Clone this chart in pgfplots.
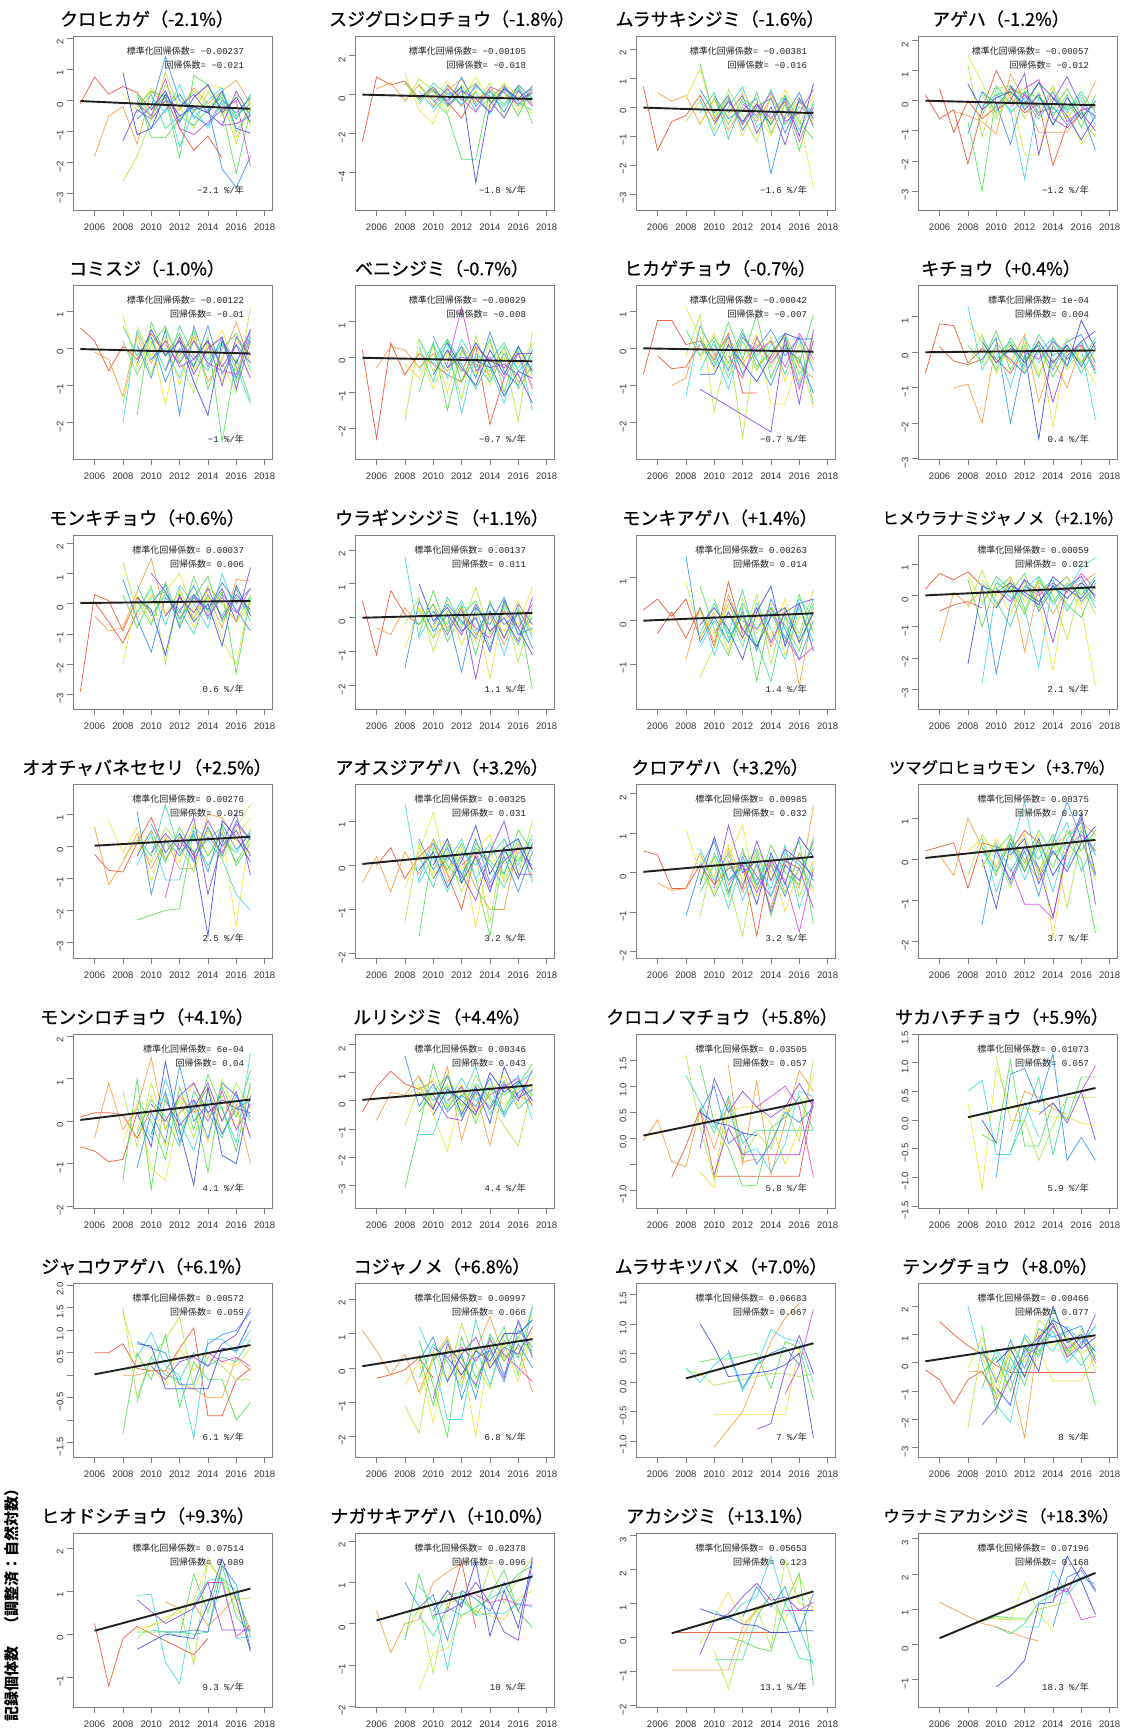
\documentclass[border=0pt]{standalone}
\usepackage{fontspec}
\setmainfont{Liberation Sans}
\newfontfamily\jp{Noto Sans CJK JP}
\newfontfamily\jpt[FakeBold=0.7]{Noto Sans CJK JP}
\newfontfamily\mono{Liberation Mono}
\usepackage{pgfplots}
\pgfplotsset{compat=1.18}
\definecolor{cR}{RGB}{235,70,40}
\definecolor{cO}{RGB}{245,150,50}
\definecolor{cY}{RGB}{235,225,40}
\definecolor{cYG}{RGB}{170,230,50}
\definecolor{cG}{RGB}{70,220,70}
\definecolor{cSG}{RGB}{50,215,150}
\definecolor{cC}{RGB}{50,215,225}
\definecolor{cA}{RGB}{40,140,235}
\definecolor{cB}{RGB}{45,65,225}
\definecolor{cV}{RGB}{130,60,230}
\definecolor{cM}{RGB}{215,60,215}
\definecolor{cP}{RGB}{170,50,220}
\definecolor{frm}{RGB}{125,125,125}
\pgfplotsset{
  ln/.style={mark=none, line width=0.75pt, opacity=0.85},
  lR/.style={ln,color=cR}, lO/.style={ln,color=cO}, lY/.style={ln,color=cY},
  lYG/.style={ln,color=cYG}, lG/.style={ln,color=cG}, lSG/.style={ln,color=cSG},
  lC/.style={ln,color=cC}, lA/.style={ln,color=cA}, lB/.style={ln,color=cB},
  lV/.style={ln,color=cV}, lM/.style={ln,color=cM}, lP/.style={ln,color=cP},
  reg/.style={mark=none, line width=1.9pt, color=black!88},
  pan/.style={
    scale only axis, width=199pt, height=174pt, anchor=north west,
    xmin=2004.48, xmax=2018.52,
    xtick={2006,2008,2010,2012,2014,2016,2018},
    xticklabels={2006,2008,2010,2012,2014,2016,2018},
    xtick pos=bottom, ytick pos=left,
    tick align=outside, major tick length=6pt,
    axis line style={frm, line width=0.8pt},
    tick style={frm, line width=0.7pt},
    tick label style={font=\fontsize{9.5}{10}\selectfont, text=black!80},
    xticklabel style={yshift=-4pt},
    yticklabel style={rotate=90, anchor=south, xshift=-4pt},
  }
}
\newcommand\stats[3]{%
 \node[anchor=east,inner sep=0pt,text=black!88,font=\fontsize{9}{10}\selectfont] at (rel axis cs:0.86,0.915) {{\jp 標準化回帰係数}{\mono= #1}};
 \node[anchor=east,inner sep=0pt,text=black!88,font=\fontsize{9}{10}\selectfont] at (rel axis cs:0.86,0.835) {{\jp 回帰係数}{\mono= #2}};
 \node[anchor=east,inner sep=0pt,text=black!88,font=\fontsize{9}{10}\selectfont] at (rel axis cs:0.86,0.115) {{\mono #3 \%/}{\jp 年}};}
\newcommand\ttl[3]{\node[font=\jpt\fontsize{18}{18}\selectfont,text=black] at (#1pt,#2pt) {#3};}
\newcommand\ttls[3]{\node[font=\jpt\fontsize{16.3}{18}\selectfont,text=black] at (#1pt,#2pt) {#3};}
\begin{document}
\begin{tikzpicture}[x=1pt,y=1pt]
\useasboundingbox (0,0) rectangle (1127,1735);
% ---------------- Row 1 ----------------
\ttl{147}{1716}{クロヒカゲ（-2.1\%）}
\begin{axis}[pan,at={(73pt,1699pt)},ymin=-3.52,ymax=2.07,ytick={-3,-2,-1,0,1,2},yticklabels={−3,−2,−1,0,1,2}]
\addplot[lR] coordinates {(2005,-0.1)(2006,0.75)(2007,0.2)(2008,0.45)(2009,0.25)(2010,-0.3)(2011,0.1)(2012,-0.9)(2013,-1.6)(2014,-1.15)(2015,-1.85)};
\addplot[lO] coordinates {(2006,-1.8)(2007,-0.5)(2008,-0.2)(2009,-1.4)(2010,0.3)(2011,-0.2)(2012,-0.3)(2013,0.4)(2014,-0.1)(2015,0.3)(2016,0.65)(2017,-0.1)};
\addplot[lY] coordinates {(2008,0.2)(2009,-0.3)(2010,0.4)(2011,-0.1)(2012,0.2)(2013,-0.4)(2014,0.5)(2015,0.4)(2016,-1.2)(2017,-0.2)};
\addplot[lYG] coordinates {(2008,-2.6)(2009,-1.8)(2010,-0.6)(2011,0.9)(2012,-0.3)(2013,0.3)(2014,-0.2)(2015,0.1)(2016,-1.4)(2017,0.1)};
\addplot[lG] coordinates {(2009,-0.2)(2010,0.3)(2011,0.1)(2012,-1.85)(2013,0.8)(2014,0.5)(2015,-0.3)(2016,-2.35)(2017,-0.3)};
\addplot[lG] coordinates {(2009,0.2)(2010,-1.2)(2011,-1.2)(2012,-0.6)(2013,-0.2)(2014,-0.4)(2015,0.2)(2016,-0.5)(2017,-0.1)};
\addplot[lSG] coordinates {(2009,-0.4)(2010,0.2)(2011,-0.9)(2012,-0.5)(2013,-0.8)(2014,-0.3)(2015,0.1)(2016,-0.6)(2017,0.2)};
\addplot[lC] coordinates {(2009,0.2)(2010,-0.5)(2011,0.2)(2012,-1.5)(2013,-0.3)(2014,-0.9)(2015,-0.1)(2016,-0.6)(2017,0.2)};
\addplot[lA] coordinates {(2009,-0.6)(2010,-0.2)(2011,1.4)(2012,0.0)(2013,-0.3)(2014,-0.2)(2015,-2.2)(2016,-2.8)(2017,-1.8)};
\addplot[lB] coordinates {(2008,0.9)(2009,-1.1)(2010,-0.9)(2011,0.2)(2012,-0.5)(2013,-0.2)(2014,-0.4)(2015,0.3)(2016,-0.9)(2017,-1.05)};
\addplot[lV] coordinates {(2008,-1.3)(2009,-0.3)(2010,-0.6)(2011,0.0)(2012,-0.2)(2013,0.2)(2014,-0.4)(2015,-0.8)(2016,0.3)(2017,-0.5)};
\addplot[lM] coordinates {(2009,-0.1)(2010,-0.5)(2011,0.7)(2012,-0.9)(2013,-1.1)(2014,-0.7)(2015,-0.3)(2016,0.0)(2017,-2.1)};
\addplot[lP] coordinates {(2015,-0.8)(2016,-0.75)(2017,-0.5)};
\addplot[lYG] coordinates {(2009,0.3)(2010,-0.6)(2011,0.5)(2012,-0.2)(2013,-0.9)(2014,0.3)(2015,-0.5)(2016,0.2)(2017,-0.8)};
\addplot[lC] coordinates {(2010,0.1)(2011,-0.4)(2012,0.5)(2013,-0.6)(2014,0.0)(2015,0.4)(2016,-1.0)(2017,-0.3)};
\addplot[lA] coordinates {(2009,0.0)(2010,-0.9)(2011,-0.3)(2012,0.2)(2013,-0.5)(2014,-0.8)(2015,0.0)(2016,-0.4)(2017,0.1)};
\addplot[lB] coordinates {(2010,-0.3)(2011,0.3)(2012,-0.7)(2013,0.1)(2014,0.5)(2015,-0.4)(2016,0.1)(2017,-0.7)};
\addplot[reg] coordinates {(2005,-0.02)(2017,-0.27)};
\stats{−0.00237}{−0.021}{−2.1}
\end{axis}
\ttl{452}{1716}{スジグロシロチョウ（-1.8\%）}
\begin{axis}[pan,at={(355pt,1699pt)},ymin=-5.9,ymax=3.0,ytick={-4,-2,0,2},yticklabels={−4,−2,0,2}]
\addplot[lR] coordinates {(2005,-2.4)(2006,0.9)(2007,0.5)(2008,0.7)(2009,-0.2)(2010,0.3)(2011,-0.4)(2012,-1.2)(2013,0.2)};
\addplot[lO] coordinates {(2006,0.3)(2007,0.6)(2008,-0.3)(2009,0.5)(2010,-0.6)(2011,0.2)(2012,0.8)(2013,-0.4)(2014,0.3)(2015,-0.2)(2016,0.4)(2017,-0.5)};
\addplot[lY] coordinates {(2008,1.1)(2009,-0.8)(2010,-1.5)(2011,0.4)(2012,-0.2)(2013,0.9)(2014,-0.3)(2015,0.5)(2016,-0.8)(2017,0.2)};
\addplot[lYG] coordinates {(2008,-0.4)(2009,0.8)(2010,0.2)(2011,-0.9)(2012,0.5)(2013,-0.5)(2014,0.6)(2015,-1.2)(2016,0.2)(2017,-0.3)};
\addplot[lG] coordinates {(2009,0.5)(2010,-0.3)(2011,-1.0)(2012,-3.3)(2013,-3.3)(2014,0.2)(2015,-0.5)(2016,0.4)(2017,-1.5)};
\addplot[lSG] coordinates {(2009,-0.5)(2010,0.6)(2011,0.0)(2012,0.3)(2013,-0.8)(2014,-0.2)(2015,0.5)(2016,-0.6)(2017,0.1)};
\addplot[lC] coordinates {(2009,0.2)(2010,-0.7)(2011,0.5)(2012,-0.3)(2013,0.1)(2014,-1.0)(2015,0.3)(2016,-0.4)(2017,-0.8)};
\addplot[lA] coordinates {(2009,-0.2)(2010,0.4)(2011,-0.5)(2012,0.9)(2013,-0.6)(2014,0.2)(2015,-0.9)(2016,0.5)(2017,-0.2)};
\addplot[lB] coordinates {(2010,0.2)(2011,-0.3)(2012,0.4)(2013,-4.5)(2014,-0.5)(2015,0.3)(2016,-0.2)(2017,0.4)};
\addplot[lV] coordinates {(2010,-0.4)(2011,0.3)(2012,-0.6)(2013,0.5)(2014,-0.3)(2015,-1.2)(2016,0.2)(2017,-0.6)};
\addplot[lM] coordinates {(2011,0.5)(2012,-0.2)(2013,-0.9)(2014,0.4)(2015,0.1)(2016,-0.5)(2017,0.3)};
\addplot[lY] coordinates {(2009,0.4)(2010,-0.2)(2011,0.7)(2012,-0.6)(2013,0.2)(2014,-0.7)(2015,0.6)(2016,-0.1)(2017,-1.0)};
\addplot[lG] coordinates {(2008,0.6)(2009,-0.3)(2010,0.2)(2011,-0.6)(2012,0.0)(2013,0.6)(2014,-0.4)(2015,0.2)(2016,-1.1)(2017,0.5)};
\addplot[lC] coordinates {(2010,-0.9)(2011,0.1)(2012,-0.5)(2013,0.4)(2014,-0.1)(2015,-0.6)(2016,0.3)(2017,-0.4)};
\addplot[lV] coordinates {(2011,-0.6)(2012,0.2)(2013,-0.2)(2014,-0.9)(2015,0.4)(2016,-0.3)(2017,0.1)};
\addplot[reg] coordinates {(2005,0.0)(2017,-0.22)};
\stats{−0.00105}{−0.018}{−1.8}
\end{axis}
\ttl{720}{1716}{ムラサキシジミ（-1.6\%）}
\begin{axis}[pan,at={(636pt,1699pt)},ymin=-3.55,ymax=2.45,ytick={-3,-2,-1,0,1,2},yticklabels={−3,−2,−1,0,1,2}]
\addplot[lR] coordinates {(2005,0.7)(2006,-1.5)(2007,-0.5)(2008,-0.3)(2009,0.4)(2010,-0.5)(2011,0.2)};
\addplot[lO] coordinates {(2006,0.5)(2007,0.2)(2008,0.4)(2009,-0.6)(2010,0.3)(2011,-0.8)(2012,0.0)(2013,-0.5)(2014,0.3)(2015,-0.4)(2016,0.2)(2017,-0.6)};
\addplot[lY] coordinates {(2008,0.3)(2009,1.3)(2010,-0.3)(2011,0.4)(2012,-1.0)(2013,0.2)(2014,-0.5)(2015,0.6)(2016,-0.3)(2017,-2.8)};
\addplot[lYG] coordinates {(2008,-0.5)(2009,0.2)(2010,-0.8)(2011,0.6)(2012,-0.3)(2013,-1.2)(2014,0.4)(2015,-0.2)(2016,0.3)(2017,-0.5)};
\addplot[lG] coordinates {(2009,1.5)(2010,-0.4)(2011,0.3)(2012,-0.6)(2013,0.5)(2014,-0.9)(2015,0.1)(2016,-1.5)(2017,0.2)};
\addplot[lSG] coordinates {(2009,-0.2)(2010,0.5)(2011,-1.1)(2012,0.2)(2013,-0.4)(2014,0.6)(2015,-0.6)(2016,0.0)(2017,-0.3)};
\addplot[lC] coordinates {(2009,0.3)(2010,-1.0)(2011,0.0)(2012,0.7)(2013,-0.7)(2014,-0.2)(2015,0.4)(2016,-0.8)(2017,0.1)};
\addplot[lA] coordinates {(2010,0.4)(2011,-0.4)(2012,-0.1)(2013,0.3)(2014,-2.3)(2015,-0.3)(2016,0.5)(2017,-0.7)};
\addplot[lB] coordinates {(2010,-0.6)(2011,0.2)(2012,-0.5)(2013,0.1)(2014,-0.6)(2015,0.3)(2016,-1.0)(2017,0.8)};
\addplot[lV] coordinates {(2011,-0.2)(2012,0.4)(2013,-0.9)(2014,0.0)(2015,-1.3)(2016,0.3)(2017,-0.4)};
\addplot[lM] coordinates {(2012,0.1)(2013,-0.3)(2014,0.5)(2015,-0.5)(2016,-0.2)(2017,0.6)};
\addplot[lY] coordinates {(2009,-0.6)(2010,0.2)(2011,-0.3)(2012,0.5)(2013,-0.2)(2014,-1.0)(2015,0.2)(2016,-0.6)(2017,0.4)};
\addplot[lG] coordinates {(2010,0.3)(2011,-0.6)(2012,0.3)(2013,-0.1)(2014,-0.6)(2015,0.4)(2016,-0.5)(2017,-1.1)};
\addplot[lA] coordinates {(2009,0.6)(2010,-0.2)(2011,0.4)(2012,-0.8)(2013,0.0)(2014,0.3)(2015,-0.9)(2016,0.2)(2017,-0.2)};
\addplot[lM] coordinates {(2011,0.3)(2012,-0.6)(2013,0.1)(2014,-0.4)(2015,0.2)(2016,-1.2)(2017,0.0)};
\addplot[reg] coordinates {(2005,-0.02)(2017,-0.21)};
\stats{−0.00381}{−0.016}{−1.6}
\end{axis}
\ttl{1001}{1716}{アゲハ（-1.2\%）}
\begin{axis}[pan,at={(918pt,1699pt)},ymin=-3.63,ymax=2.15,ytick={-3,-2,-1,0,1,2},yticklabels={−3,−2,−1,0,1,2}]
\addplot[lR] coordinates {(2005,0.2)(2006,-0.6)(2007,-0.3)(2008,-2.1)(2009,-0.3)(2010,1.0)(2011,0.1)(2012,-0.4)(2013,-0.1)(2014,-2.15)(2015,-0.8)};
\addplot[lR] coordinates {(2006,0.4)(2007,-1.05)(2008,0.0)(2009,-0.6)(2010,-0.2)(2011,0.4)(2012,0.2)(2013,-0.2)};
\addplot[lO] coordinates {(2007,-0.35)(2008,-0.5)(2009,-0.7)(2010,-1.1)(2011,0.9)(2012,0.0)(2013,-1.05)(2014,-1.05)(2015,-1.05)(2016,-0.4)(2017,0.65)};
\addplot[lY] coordinates {(2008,1.5)(2009,0.6)(2010,-0.5)(2011,0.3)(2012,-1.8)(2013,-1.8)(2014,0.4)(2015,-0.3)(2016,-1.45)(2017,-0.8)};
\addplot[lYG] coordinates {(2008,1.2)(2009,-1.2)(2010,0.4)(2011,0.5)(2012,-0.6)(2013,0.3)(2014,-0.8)(2015,-0.1)(2016,-0.6)(2017,-1.2)};
\addplot[lG] coordinates {(2008,-0.7)(2009,-3.0)(2010,0.2)(2011,0.3)(2012,-0.2)(2013,0.6)(2014,-0.5)(2015,0.2)(2016,-0.9)(2017,0.2)};
\addplot[lSG] coordinates {(2009,0.3)(2010,-0.4)(2011,0.5)(2012,0.0)(2013,-0.6)(2014,0.1)(2015,-0.3)(2016,0.3)(2017,-0.4)};
\addplot[lC] coordinates {(2009,-0.2)(2010,0.2)(2011,-0.3)(2012,-2.6)(2013,0.1)(2014,-0.4)(2015,-0.2)(2016,0.0)(2017,-0.6)};
\addplot[lA] coordinates {(2008,-1.1)(2009,0.3)(2010,-0.1)(2011,-1.45)(2012,0.3)(2013,-0.4)(2014,-0.2)(2015,-0.8)(2016,-0.3)(2017,-1.65)};
\addplot[lB] coordinates {(2008,0.55)(2009,-0.3)(2010,0.1)(2011,0.3)(2012,-0.1)(2013,0.6)(2014,0.1)(2015,-0.5)(2016,-1.3)(2017,-0.5)};
\addplot[lV] coordinates {(2010,-0.3)(2011,0.0)(2012,0.9)(2013,-1.8)(2014,0.0)(2015,0.8)(2016,-0.2)(2017,-0.5)};
\addplot[lM] coordinates {(2011,-0.2)(2012,0.2)(2013,-0.5)(2014,0.3)(2015,-0.7)(2016,-0.3)(2017,-0.2)};
\addplot[lP] coordinates {(2012,0.4)(2013,0.7)(2014,-0.6)(2015,-0.9)(2016,-0.4)(2017,-1.0)};
\addplot[lYG] coordinates {(2009,0.2)(2010,-0.6)(2011,0.2)(2012,0.4)(2013,-0.4)(2014,0.5)(2015,-0.6)(2016,0.1)(2017,-0.3)};
\addplot[lG] coordinates {(2009,-0.5)(2010,0.5)(2011,-0.1)(2012,0.3)(2013,0.1)(2014,-0.3)(2015,0.4)(2016,-0.5)(2017,-0.1)};
\addplot[lC] coordinates {(2010,0.4)(2011,-0.4)(2012,0.1)(2013,-0.2)(2014,0.3)(2015,-0.4)(2016,0.2)(2017,-0.8)};
\addplot[lB] coordinates {(2011,0.5)(2012,-0.3)(2013,0.2)(2014,-0.8)(2015,0.1)(2016,-0.6)(2017,0.0)};
\addplot[reg] coordinates {(2005,0.0)(2017,-0.15)};
\stats{−0.00057}{−0.012}{−1.2}
\end{axis}
% ---------------- Row 2 ----------------
\ttl{147}{1466.5}{コミスジ（-1.0\%）}
\begin{axis}[pan,at={(73pt,1449.5pt)},ymin=-2.99,ymax=1.69,ytick={-2,-1,0,1},yticklabels={−2,−1,0,1}]
\addplot[lR] coordinates {(2005,0.55)(2006,0.2)(2007,-0.6)(2008,0.05)(2009,-0.3)(2010,0.4)(2011,-0.2)};
\addplot[lO] coordinates {(2006,-0.1)(2007,-0.3)(2008,-1.3)(2009,0.4)(2010,-0.4)(2011,0.2)(2012,-0.2)(2013,0.3)(2014,-0.9)(2015,-0.3)(2016,0.7)(2017,-0.4)};
\addplot[lY] coordinates {(2008,0.9)(2009,-0.5)(2010,0.2)(2011,-1.5)(2012,0.3)(2013,-0.6)(2014,0.1)(2015,-0.9)(2016,0.2)(2017,-0.2)};
\addplot[lYG] coordinates {(2008,-1.5)(2009,0.3)(2010,-0.7)(2011,0.5)(2012,-0.3)(2013,-1.2)(2014,0.2)(2015,-0.4)(2016,-1.2)(2017,1.1)};
\addplot[lG] coordinates {(2009,-1.8)(2010,0.7)(2011,-0.2)(2012,0.4)(2013,-0.5)(2014,0.3)(2015,-2.5)(2016,-0.3)(2017,-1.4)};
\addplot[lSG] coordinates {(2008,0.6)(2009,-0.2)(2010,0.3)(2011,-0.6)(2012,0.6)(2013,-0.2)(2014,-0.6)(2015,0.2)(2016,-0.9)(2017,0.4)};
\addplot[lC] coordinates {(2008,-2.0)(2009,0.5)(2010,-0.3)(2011,0.0)(2012,-0.8)(2013,0.2)(2014,-0.3)(2015,0.1)(2016,-0.5)(2017,-1.5)};
\addplot[lA] coordinates {(2009,0.1)(2010,-0.8)(2011,0.5)(2012,-1.8)(2013,0.6)(2014,-0.5)(2015,0.3)(2016,-0.8)(2017,0.3)};
\addplot[lB] coordinates {(2009,-0.4)(2010,0.5)(2011,-0.2)(2012,0.2)(2013,-0.9)(2014,-1.8)(2015,0.2)(2016,-0.4)(2017,0.5)};
\addplot[lV] coordinates {(2010,-0.3)(2011,0.2)(2012,-0.5)(2013,-0.3)(2014,0.2)(2015,-1.0)(2016,0.3)(2017,-0.2)};
\addplot[lM] coordinates {(2011,0.1)(2012,-0.4)(2013,0.2)(2014,-0.4)(2015,-0.6)(2016,-0.7)(2017,0.5)};
\addplot[lP] coordinates {(2012,0.2)(2013,-0.3)(2014,0.2)(2015,-0.5)(2016,0.1)(2017,-0.8)};
\addplot[lY] coordinates {(2009,0.6)(2010,-0.2)(2011,0.3)(2012,-1.0)(2013,0.4)(2014,-0.2)(2015,0.5)(2016,-0.6)(2017,0.2)};
\addplot[lG] coordinates {(2008,0.2)(2009,-0.7)(2010,0.1)(2011,0.6)(2012,-0.4)(2013,0.5)(2014,-1.1)(2015,0.0)(2016,0.4)(2017,-0.6)};
\addplot[lA] coordinates {(2010,0.3)(2011,-0.9)(2012,0.0)(2013,-0.5)(2014,0.6)(2015,-0.7)(2016,0.1)(2017,-0.4)};
\addplot[lV] coordinates {(2011,-0.6)(2012,0.3)(2013,-0.7)(2014,0.0)(2015,0.3)(2016,-1.1)(2017,0.2)};
\addplot[reg] coordinates {(2005,-0.02)(2017,-0.14)};
\stats{−0.00122}{−0.01}{−1}
\end{axis}
\ttl{442}{1466.5}{ベニシジミ（-0.7\%）}
\begin{axis}[pan,at={(355pt,1449.5pt)},ymin=-2.89,ymax=2.02,ytick={-2,-1,0,1},yticklabels={−2,−1,0,1}]
\addplot[lR] coordinates {(2005,0.2)(2006,-2.3)(2007,0.4)(2008,-0.5)(2009,0.1)(2010,-0.2)(2011,-0.5)(2012,-0.7)(2013,0.3)(2014,-1.9)(2015,-0.6)};
\addplot[lO] coordinates {(2006,-0.3)(2007,0.3)(2008,0.2)(2009,-0.3)(2010,0.1)(2011,-0.4)(2012,0.3)(2013,-0.2)(2014,-0.5)(2015,0.1)(2016,-0.7)(2017,-0.3)};
\addplot[lY] coordinates {(2008,-0.2)(2009,-0.6)(2010,0.3)(2011,-1.0)(2012,0.2)(2013,-0.5)(2014,0.4)(2015,-0.3)(2016,0.2)(2017,-0.8)};
\addplot[lYG] coordinates {(2008,-1.8)(2009,0.5)(2010,-0.4)(2011,0.2)(2012,-1.2)(2013,0.6)(2014,-0.6)(2015,0.0)(2016,-1.8)(2017,0.7)};
\addplot[lG] coordinates {(2009,-1.0)(2010,0.4)(2011,-1.5)(2012,0.2)(2013,-0.3)(2014,0.5)(2015,-1.0)(2016,0.3)(2017,-0.5)};
\addplot[lSG] coordinates {(2009,0.3)(2010,-0.7)(2011,0.5)(2012,-0.2)(2013,-0.9)(2014,-0.1)(2015,0.4)(2016,-0.4)(2017,0.0)};
\addplot[lC] coordinates {(2009,0.5)(2010,-0.2)(2011,0.4)(2012,-1.6)(2013,0.1)(2014,-0.3)(2015,-1.3)(2016,0.2)(2017,-1.5)};
\addplot[lA] coordinates {(2010,0.6)(2011,-0.3)(2012,0.3)(2013,-0.6)(2014,0.7)(2015,-0.4)(2016,-0.8)(2017,0.2)};
\addplot[lB] coordinates {(2010,-0.5)(2011,0.2)(2012,-0.4)(2013,0.4)(2014,-0.2)(2015,-1.1)(2016,-0.4)(2017,-0.6)};
\addplot[lV] coordinates {(2011,-0.3)(2012,0.0)(2013,-0.1)(2014,-0.3)(2015,-0.2)(2016,-0.5)(2017,-1.3)};
\addplot[lM] coordinates {(2011,-0.2)(2012,1.4)(2013,-0.4)(2014,0.0)(2015,-0.6)(2016,0.1)(2017,-0.9)};
\addplot[lP] coordinates {(2013,0.3)(2014,-0.1)(2015,-0.3)(2016,0.1)(2017,0.1)};
\addplot[lY] coordinates {(2009,0.2)(2010,-0.9)(2011,0.1)(2012,-0.4)(2013,0.3)(2014,-0.8)(2015,0.2)(2016,-0.2)(2017,0.4)};
\addplot[lG] coordinates {(2010,-0.1)(2011,0.5)(2012,-0.7)(2013,0.0)(2014,-0.4)(2015,0.3)(2016,-0.9)(2017,-0.2)};
\addplot[lC] coordinates {(2009,-0.4)(2010,0.4)(2011,-0.6)(2012,0.5)(2013,-0.2)(2014,-0.7)(2015,0.1)(2016,-0.3)(2017,0.3)};
\addplot[lB] coordinates {(2011,0.4)(2012,-0.3)(2013,-0.8)(2014,0.2)(2015,-0.5)(2016,0.3)(2017,-0.4)};
\addplot[reg] coordinates {(2005,-0.02)(2017,-0.12)};
\stats{−0.00029}{−0.008}{−0.7}
\end{axis}
\ttl{720}{1466.5}{ヒカゲチョウ（-0.7\%）}
\begin{axis}[pan,at={(636pt,1449.5pt)},ymin=-2.99,ymax=1.69,ytick={-2,-1,0,1},yticklabels={−2,−1,0,1}]
\addplot[lR] coordinates {(2005,-0.7)(2006,0.75)(2007,0.75)(2008,0.1)(2009,0.2)(2010,-0.3)(2011,0.4)(2012,-1.2)(2013,-1.2)};
\addplot[lR] coordinates {(2006,-0.2)(2007,-0.55)(2008,-0.5)(2009,0.1)};
\addplot[lO] coordinates {(2007,-1.0)(2008,-0.8)(2009,0.6)(2010,-0.2)(2011,0.3)(2012,-0.4)(2013,0.1)(2014,-0.3)(2015,0.4)(2016,-0.5)(2017,-0.8)};
\addplot[lY] coordinates {(2008,1.1)(2009,0.3)(2010,-0.6)(2011,0.2)(2012,-0.5)(2013,0.4)(2014,-1.5)(2015,-1.5)(2016,-0.2)(2017,-1.6)};
\addplot[lYG] coordinates {(2008,-0.2)(2009,0.9)(2010,-1.7)(2011,0.1)(2012,-2.4)(2013,0.3)(2014,-0.5)(2015,0.2)(2016,-0.9)(2017,0.4)};
\addplot[lG] coordinates {(2009,0.3)(2010,-0.4)(2011,0.7)(2012,-0.3)(2013,0.9)(2014,-0.8)(2015,0.1)(2016,-0.4)(2017,0.9)};
\addplot[lSG] coordinates {(2009,-0.6)(2010,0.2)(2011,-0.8)(2012,0.3)(2013,-0.2)(2014,0.2)(2015,-0.7)(2016,0.3)(2017,-1.5)};
\addplot[lC] coordinates {(2008,-1.3)(2009,0.6)(2010,-0.1)(2011,-1.1)(2012,0.2)(2013,-0.6)(2014,0.1)(2015,0.4)(2016,-1.0)(2017,0.2)};
\addplot[lA] coordinates {(2009,0.2)(2010,-0.5)(2011,0.3)(2012,-0.7)(2013,0.0)(2014,0.5)(2015,-0.2)(2016,0.3)(2017,-0.6)};
\addplot[lB] coordinates {(2009,-0.7)(2010,-0.7)(2011,0.1)(2012,-0.4)(2013,-0.9)(2014,-0.2)(2015,0.4)(2016,0.25)(2017,0.25)};
\addplot[lV] coordinates {(2009,-1.1)(2014,-2.25)(2015,0.3)(2016,-1.5)(2017,0.5)};
\addplot[lM] coordinates {(2012,0.3)(2013,-0.1)(2014,0.2)(2015,-0.5)(2016,0.4)(2017,-0.3)};
\addplot[lY] coordinates {(2009,-0.3)(2010,0.4)(2011,-0.5)(2012,0.2)(2013,-0.6)(2014,0.3)(2015,-0.9)(2016,0.1)(2017,-0.4)};
\addplot[lG] coordinates {(2008,0.5)(2009,-0.2)(2010,0.3)(2011,-0.4)(2012,0.5)(2013,-0.5)(2014,-0.1)(2015,0.3)(2016,-0.7)(2017,-0.1)};
\addplot[lA] coordinates {(2010,0.1)(2011,-0.6)(2012,0.4)(2013,-0.3)(2014,-1.0)(2015,0.0)(2016,-0.3)(2017,-1.2)};
\addplot[lM] coordinates {(2011,-0.2)(2012,-0.8)(2013,0.3)(2014,-0.4)(2015,0.1)(2016,-1.1)(2017,0.2)};
\addplot[reg] coordinates {(2005,0.0)(2017,-0.09)};
\stats{−0.00042}{−0.007}{−0.7}
\end{axis}
\ttl{1001}{1466.5}{キチョウ（+0.4\%）}
\begin{axis}[pan,at={(918pt,1449.5pt)},ymin=-3.02,ymax=1.88,ytick={-3,-2,-1,0,1},yticklabels={−3,−2,−1,0,1}]
\addplot[lR] coordinates {(2005,-0.6)(2006,0.8)(2007,0.75)(2008,-0.3)(2009,0.1)(2010,-0.2)(2011,-0.6)(2012,0.1)};
\addplot[lR] coordinates {(2006,0.15)(2007,-0.25)(2008,-0.35)(2009,-0.2)};
\addplot[lO] coordinates {(2007,-1.0)(2008,-0.9)(2009,-2.0)(2010,0.3)(2011,-0.3)(2012,0.5)(2013,-1.4)(2014,-0.2)(2015,-1.0)(2016,0.2)(2017,-0.4)};
\addplot[lY] coordinates {(2008,0.9)(2009,0.3)(2010,-0.3)(2011,0.2)(2012,-0.5)(2013,0.3)(2014,-2.1)(2015,0.1)(2016,-0.2)(2017,-0.9)};
\addplot[lYG] coordinates {(2008,-0.4)(2009,0.5)(2010,-0.6)(2011,0.3)(2012,-0.2)(2013,0.1)(2014,-0.4)(2015,0.4)(2016,-0.3)(2017,0.2)};
\addplot[lG] coordinates {(2008,0.2)(2009,-0.3)(2010,0.6)(2011,-0.5)(2012,0.2)(2013,-0.7)(2014,0.4)(2015,-0.2)(2016,0.3)(2017,-0.6)};
\addplot[lSG] coordinates {(2009,0.4)(2010,-0.2)(2011,0.1)(2012,-0.4)(2013,0.5)(2014,-0.1)(2015,0.2)(2016,-0.6)(2017,0.1)};
\addplot[lC] coordinates {(2008,1.3)(2009,-0.5)(2010,0.2)(2011,-1.0)(2012,0.4)(2013,-0.3)(2014,0.3)(2015,-0.2)(2016,0.1)(2017,-1.9)};
\addplot[lA] coordinates {(2009,-0.2)(2010,0.4)(2011,-2.0)(2012,-0.1)(2013,0.2)(2014,-0.5)(2015,0.3)(2016,0.5)(2017,-0.3)};
\addplot[lB] coordinates {(2009,0.3)(2010,-0.3)(2011,0.1)(2012,0.0)(2013,-2.45)(2014,0.2)(2015,-0.4)(2016,0.9)(2017,0.1)};
\addplot[lV] coordinates {(2010,0.1)(2011,-0.2)(2012,-0.6)(2013,0.1)(2014,-1.4)(2015,-0.1)(2016,0.3)(2017,0.6)};
\addplot[lM] coordinates {(2012,0.0)(2013,-0.2)(2014,0.3)(2015,0.0)(2016,0.2)(2017,-0.5)};
\addplot[lY] coordinates {(2009,-0.4)(2010,0.1)(2011,-0.3)(2012,0.3)(2013,-0.6)(2014,0.2)(2015,-0.5)(2016,0.1)(2017,-0.2)};
\addplot[lG] coordinates {(2009,0.2)(2010,-0.5)(2011,0.4)(2012,-0.2)(2013,0.2)(2014,-0.7)(2015,0.1)(2016,-0.3)(2017,0.4)};
\addplot[lC] coordinates {(2010,-0.1)(2011,0.3)(2012,-0.6)(2013,0.0)(2014,0.4)(2015,-0.4)(2016,0.3)(2017,-0.6)};
\addplot[lB] coordinates {(2011,0.2)(2012,-0.3)(2013,0.3)(2014,-0.3)(2015,0.2)(2016,-0.4)(2017,0.3)};
\addplot[reg] coordinates {(2005,0.0)(2017,0.05)};
\stats{1e-04}{0.004}{0.4}
\end{axis}
% ---------------- Row 3 ----------------
\ttl{147}{1217}{モンキチョウ（+0.6\%）}
\begin{axis}[pan,at={(73pt,1200pt)},ymin=-3.48,ymax=2.27,ytick={-3,-2,-1,0,1,2},yticklabels={−3,−2,−1,0,1,2}]
\addplot[lR] coordinates {(2005,-2.9)(2006,0.3)(2007,0.1)(2008,-0.9)(2009,0.2)(2010,-0.3)};
\addplot[lR] coordinates {(2005,0.05)(2006,0.05)(2007,-0.6)(2008,-1.3)(2009,-0.3)};
\addplot[lO] coordinates {(2006,-0.4)(2007,-0.9)(2008,-0.8)(2009,0.4)(2010,1.5)(2011,-0.4)(2012,0.2)(2013,-0.5)(2014,0.3)(2015,-0.8)(2016,0.8)(2017,0.75)};
\addplot[lY] coordinates {(2008,-2.0)(2009,0.3)(2010,-0.6)(2011,0.4)(2012,1.0)(2013,-0.3)(2014,0.2)(2015,-1.2)(2016,-2.0)(2017,0.3)};
\addplot[lYG] coordinates {(2008,1.4)(2009,-0.3)(2010,0.6)(2011,-2.0)(2012,0.5)(2013,-0.5)(2014,0.6)(2015,0.0)(2016,-0.6)(2017,0.3)};
\addplot[lG] coordinates {(2008,0.3)(2009,-0.8)(2010,0.2)(2011,0.4)(2012,-0.7)(2013,0.9)(2014,-0.3)(2015,0.4)(2016,-2.3)(2017,0.2)};
\addplot[lSG] coordinates {(2009,0.6)(2010,-0.4)(2011,0.3)(2012,-0.2)(2013,-1.0)(2014,0.3)(2015,-0.4)(2016,0.5)(2017,-0.6)};
\addplot[lC] coordinates {(2009,-0.3)(2010,0.5)(2011,-0.7)(2012,0.6)(2013,0.0)(2014,-0.8)(2015,1.0)(2016,-0.3)(2017,0.2)};
\addplot[lA] coordinates {(2008,0.8)(2009,-0.5)(2010,-1.6)(2011,0.2)(2012,-0.3)(2013,0.6)(2014,-0.5)(2015,0.3)(2016,-0.2)(2017,-0.9)};
\addplot[lB] coordinates {(2009,0.2)(2010,-0.2)(2011,-1.7)(2012,0.3)(2013,-0.6)(2014,0.0)(2015,-1.4)(2016,0.6)(2017,-0.4)};
\addplot[lV] coordinates {(2010,1.0)(2011,0.4)(2012,-0.5)(2013,0.2)(2014,-0.2)(2015,0.5)(2016,-0.6)(2017,1.2)};
\addplot[lM] coordinates {(2012,-0.2)(2013,0.3)(2014,-0.4)(2015,0.2)(2016,-0.3)(2017,0.5)};
\addplot[lY] coordinates {(2009,-0.5)(2010,0.3)(2011,-0.3)(2012,0.4)(2013,-0.8)(2014,0.5)(2015,0.1)(2016,-0.6)(2017,0.0)};
\addplot[lG] coordinates {(2009,0.1)(2010,-0.7)(2011,0.7)(2012,-0.5)(2013,0.2)(2014,0.9)(2015,-0.6)(2016,0.2)(2017,-0.3)};
\addplot[lA] coordinates {(2010,0.0)(2011,0.6)(2012,-0.8)(2013,0.3)(2014,-0.2)(2015,0.7)(2016,0.0)(2017,0.5)};
\addplot[lV] coordinates {(2011,-0.4)(2012,0.2)(2013,-0.3)(2014,0.5)(2015,-0.5)(2016,0.3)(2017,-0.2)};
\addplot[reg] coordinates {(2005,0.02)(2017,0.09)};
\stats{0.00037}{0.006}{0.6}
\end{axis}
\ttl{442}{1217}{ウラギンシジミ（+1.1\%）}
\begin{axis}[pan,at={(355pt,1200pt)},ymin=-2.69,ymax=2.44,ytick={-2,-1,0,1,2},yticklabels={−2,−1,0,1,2}]
\addplot[lR] coordinates {(2005,0.5)(2006,-1.1)(2007,0.8)(2008,0.1)(2009,-0.2)};
\addplot[lO] coordinates {(2006,-0.3)(2007,-0.5)(2008,0.3)(2009,-0.2)(2010,0.4)(2011,-0.3)(2012,0.2)(2013,-0.5)(2014,0.1)(2015,-0.8)(2016,0.2)(2017,-0.4)};
\addplot[lY] coordinates {(2008,-0.9)(2009,0.3)(2010,-0.3)(2011,0.5)(2012,-0.8)(2013,0.2)(2014,-1.8)(2015,0.4)(2016,-0.2)(2017,0.9)};
\addplot[lYG] coordinates {(2008,-0.2)(2009,0.6)(2010,-1.0)(2011,0.2)(2012,-0.3)(2013,0.9)(2014,-0.5)(2015,0.3)(2016,-1.3)(2017,0.2)};
\addplot[lG] coordinates {(2009,-0.5)(2010,0.8)(2011,-0.4)(2012,0.4)(2013,-1.1)(2014,0.5)(2015,-0.6)(2016,0.2)(2017,-2.1)};
\addplot[lSG] coordinates {(2009,0.2)(2010,-0.6)(2011,0.6)(2012,-0.2)(2013,0.3)(2014,-0.9)(2015,0.4)(2016,-0.5)(2017,0.0)};
\addplot[lC] coordinates {(2008,1.8)(2009,-0.6)(2010,0.2)(2011,-0.2)(2012,0.5)(2013,-0.4)(2014,0.2)(2015,-1.1)(2016,0.3)(2017,-0.6)};
\addplot[lA] coordinates {(2008,-1.5)(2009,0.5)(2010,-0.4)(2011,0.1)(2012,-1.6)(2013,0.3)(2014,-0.2)(2015,0.6)(2016,-0.5)(2017,-0.3)};
\addplot[lB] coordinates {(2009,1.0)(2010,-0.1)(2011,0.3)(2012,-0.4)(2013,0.0)(2014,-1.0)(2015,0.5)(2016,-0.3)(2017,-1.1)};
\addplot[lV] coordinates {(2010,0.2)(2011,-0.5)(2012,0.3)(2013,-1.8)(2014,0.2)(2015,-0.6)(2016,0.4)(2017,-0.2)};
\addplot[lM] coordinates {(2012,0.1)(2013,-0.3)(2014,-0.6)(2015,0.2)(2016,-0.3)(2017,0.4)};
\addplot[lY] coordinates {(2009,0.3)(2010,-0.6)(2011,-0.1)(2012,0.3)(2013,-0.7)(2014,0.0)(2015,-0.4)(2016,0.5)(2017,-0.5)};
\addplot[lG] coordinates {(2009,-0.2)(2010,0.4)(2011,-0.7)(2012,0.1)(2013,0.5)(2014,-0.4)(2015,0.0)(2016,-0.8)(2017,0.3)};
\addplot[lA] coordinates {(2010,-0.2)(2011,0.4)(2012,-0.1)(2013,-0.6)(2014,0.4)(2015,-0.2)(2016,0.1)(2017,-0.9)};
\addplot[lV] coordinates {(2011,0.1)(2012,-0.5)(2013,0.4)(2014,-0.4)(2015,0.0)(2016,-0.7)(2017,0.6)};
\addplot[reg] coordinates {(2005,0.0)(2017,0.14)};
\stats{0.00137}{0.011}{1.1}
\end{axis}
\ttl{720}{1217}{モンキアゲハ（+1.4\%）}
\begin{axis}[pan,at={(636pt,1200pt)},ymin=-2.04,ymax=1.98,ytick={-1,0,1},yticklabels={−1,0,1}]
\addplot[lR] coordinates {(2005,0.25)(2006,0.5)(2007,0.1)(2008,0.5)(2009,-0.4)(2010,0.2)};
\addplot[lR] coordinates {(2006,-0.3)(2007,0.2)(2008,-0.4)(2009,0.3)(2010,-0.6)(2011,0.9)(2012,-0.3)};
\addplot[lO] coordinates {(2008,-0.9)(2009,0.3)(2010,-0.5)(2011,0.6)(2012,-0.2)(2013,0.3)(2014,-0.6)(2015,0.2)(2016,-1.5)(2017,0.3)};
\addplot[lY] coordinates {(2008,0.9)(2009,-0.4)(2010,0.2)(2011,-0.7)(2012,0.5)(2013,-0.3)(2014,0.4)(2015,-0.8)(2016,0.1)(2017,-0.2)};
\addplot[lYG] coordinates {(2009,-1.3)(2010,-0.6)(2011,0.4)(2012,-0.4)(2013,0.6)(2014,-1.0)(2015,0.3)(2016,-0.3)(2017,0.7)};
\addplot[lG] coordinates {(2009,0.8)(2010,-0.2)(2011,-0.8)(2012,0.3)(2013,-1.4)(2014,0.2)(2015,-0.5)(2016,0.6)(2017,-0.3)};
\addplot[lSG] coordinates {(2009,-0.3)(2010,0.4)(2011,-0.3)(2012,0.7)(2013,-0.5)(2014,-1.4)(2015,0.1)(2016,-0.4)(2017,0.5)};
\addplot[lC] coordinates {(2009,0.3)(2010,-0.8)(2011,0.2)(2012,-0.6)(2013,0.4)(2014,-0.2)(2015,-0.9)(2016,0.3)(2017,-0.5)};
\addplot[lA] coordinates {(2008,1.5)(2009,-0.5)(2010,0.1)(2011,-0.5)(2012,0.2)(2013,-0.7)(2014,0.5)(2015,-0.2)(2016,-0.9)(2017,0.0)};
\addplot[lB] coordinates {(2009,-0.1)(2010,0.3)(2011,-0.2)(2012,-0.9)(2013,0.2)(2014,0.8)(2015,-0.6)(2016,0.4)(2017,-0.7)};
\addplot[lV] coordinates {(2010,-0.3)(2011,0.2)(2012,-0.4)(2013,0.3)(2014,-0.5)(2015,0.2)(2016,0.4)(2017,0.5)};
\addplot[lM] coordinates {(2012,0.0)(2013,-0.2)(2014,0.3)(2015,-0.4)(2016,-0.9)(2017,-0.6)};
\addplot[lY] coordinates {(2009,0.2)(2010,-0.3)(2011,0.4)(2012,-0.5)(2013,0.1)(2014,-0.4)(2015,0.5)(2016,-0.5)(2017,0.2)};
\addplot[lG] coordinates {(2010,0.5)(2011,-0.4)(2012,0.1)(2013,-0.6)(2014,0.3)(2015,-0.1)(2016,-0.7)(2017,0.4)};
\addplot[lC] coordinates {(2009,-0.6)(2010,0.0)(2011,-0.5)(2012,0.4)(2013,-0.2)(2014,0.2)(2015,-0.4)(2016,0.5)(2017,0.1)};
\addplot[lB] coordinates {(2011,0.5)(2012,-0.2)(2013,-0.6)(2014,0.1)(2015,0.3)(2016,-0.5)(2017,0.2)};
\addplot[reg] coordinates {(2005,0.0)(2017,0.17)};
\stats{0.00263}{0.014}{1.4}
\end{axis}
\ttls{1003}{1217}{ヒメウラナミジャノメ（+2.1\%）}
\begin{axis}[pan,at={(918pt,1200pt)},ymin=-3.63,ymax=1.93,ytick={-3,-2,-1,0,1},yticklabels={−3,−2,−1,0,1}]
\addplot[lR] coordinates {(2005,0.2)(2006,0.7)(2007,0.5)(2008,0.75)(2009,0.3)};
\addplot[lR] coordinates {(2006,-0.5)(2007,-0.3)(2008,-0.2)(2009,-0.4)};
\addplot[lO] coordinates {(2006,-1.5)(2007,0.1)(2008,-0.3)(2009,0.2)(2010,-0.4)(2011,0.5)(2012,-1.8)(2013,0.3)(2014,-0.6)(2015,0.2)(2016,0.4)(2017,0.7)};
\addplot[lY] coordinates {(2008,0.6)(2009,-0.2)(2010,0.3)(2011,-0.6)(2012,0.4)(2013,-0.2)(2014,-2.4)(2015,0.3)(2016,-0.4)(2017,-2.9)};
\addplot[lYG] coordinates {(2008,-0.4)(2009,0.8)(2010,-0.3)(2011,0.4)(2012,-0.5)(2013,0.6)(2014,0.0)(2015,-1.4)(2016,0.3)(2017,-0.6)};
\addplot[lG] coordinates {(2008,0.5)(2009,-1.0)(2010,0.4)(2011,0.1)(2012,0.7)(2013,-0.4)(2014,0.3)(2015,-0.3)(2016,-0.7)(2017,0.4)};
\addplot[lSG] coordinates {(2009,0.4)(2010,-0.2)(2011,-1.0)(2012,0.3)(2013,0.1)(2014,0.5)(2015,-0.5)(2016,0.3)(2017,-0.2)};
\addplot[lC] coordinates {(2009,-2.8)(2010,0.2)(2011,0.6)(2012,-0.4)(2013,-2.3)(2014,0.4)(2015,0.1)(2016,0.9)(2017,1.2)};
\addplot[lA] coordinates {(2009,0.3)(2010,-2.5)(2011,-0.3)(2012,0.5)(2013,-0.5)(2014,0.2)(2015,0.6)(2016,-0.2)(2017,0.3)};
\addplot[lB] coordinates {(2008,-2.2)(2009,0.3)(2010,0.1)(2011,0.4)(2012,0.0)(2013,-0.3)(2014,0.6)(2015,0.2)(2016,-0.1)(2017,0.5)};
\addplot[lV] coordinates {(2010,0.2)(2011,-0.2)(2012,0.5)(2013,0.1)(2014,-1.5)(2015,0.3)(2016,0.6)(2017,-0.1)};
\addplot[lM] coordinates {(2012,0.3)(2013,0.0)(2014,0.4)(2015,0.1)(2016,0.7)(2017,0.2)};
\addplot[lY] coordinates {(2009,0.5)(2010,0.0)(2011,0.6)(2012,-0.2)(2013,0.4)(2014,0.1)(2015,0.6)(2016,-0.3)(2017,0.3)};
\addplot[lG] coordinates {(2009,-0.3)(2010,0.6)(2011,0.2)(2012,-0.6)(2013,0.5)(2014,-0.2)(2015,0.4)(2016,0.0)(2017,0.6)};
\addplot[lC] coordinates {(2010,0.5)(2011,-0.1)(2012,0.2)(2013,0.6)(2014,-0.3)(2015,0.3)(2016,0.5)(2017,-0.4)};
\addplot[lB] coordinates {(2010,-0.4)(2011,0.3)(2012,0.1)(2013,-0.2)(2014,0.3)(2015,-0.1)(2016,0.4)(2017,0.0)};
\addplot[reg] coordinates {(2005,0.0)(2017,0.26)};
\stats{0.00059}{0.021}{2.1}
\end{axis}
% ---------------- Row 4 ----------------
\ttl{147}{967.5}{オオチャバネセセリ（+2.5\%）}
\begin{axis}[pan,at={(73pt,950.5pt)},ymin=-3.5,ymax=1.93,ytick={-3,-2,-1,0,1},yticklabels={−3,−2,−1,0,1}]
\addplot[lR] coordinates {(2006,-0.25)(2007,-0.75)(2008,-0.8)(2009,0.1)(2010,0.9)(2011,-0.2)};
\addplot[lO] coordinates {(2006,0.6)(2007,-1.2)(2008,-0.5)(2009,0.4)(2010,-0.7)(2011,0.2)(2012,-0.7)(2013,-0.7)(2014,1.0)(2015,0.9)(2016,0.2)(2017,-0.2)};
\addplot[lY] coordinates {(2007,0.8)(2008,-0.2)(2009,0.6)(2010,-1.1)(2011,0.3)(2012,-0.5)(2013,0.7)(2014,-0.3)(2015,0.5)(2016,-2.5)(2017,0.6)};
\addplot[lYG] coordinates {(2008,-0.4)(2009,0.2)(2010,-0.5)(2011,0.6)(2012,0.0)(2013,-0.8)(2014,0.5)(2015,-0.3)(2016,0.6)(2017,1.3)};
\addplot[lG] coordinates {(2009,-2.3)(2011,-2.0)(2012,-1.95)(2013,0.5)(2014,-0.3)(2015,0.4)(2016,-0.5)(2017,0.3)};
\addplot[lSG] coordinates {(2009,0.3)(2010,-0.3)(2011,1.3)(2012,-0.2)(2013,0.3)(2014,-0.6)(2015,0.2)(2016,-0.2)(2017,0.5)};
\addplot[lC] coordinates {(2009,-0.6)(2010,0.4)(2011,-1.05)(2012,-1.05)(2013,0.6)(2014,0.2)(2015,-0.4)(2016,-1.5)(2017,-2.0)};
\addplot[lA] coordinates {(2009,1.1)(2010,-1.5)(2011,0.2)(2012,-0.3)(2013,0.4)(2014,-0.8)(2015,0.7)(2016,-0.1)(2017,0.4)};
\addplot[lB] coordinates {(2009,-0.3)(2010,0.5)(2011,-0.4)(2012,0.3)(2013,-0.2)(2014,-2.8)(2015,0.8)(2016,0.3)(2017,-0.5)};
\addplot[lV] coordinates {(2010,-0.2)(2011,0.4)(2012,-0.1)(2013,0.9)(2014,-1.5)(2015,0.1)(2016,1.0)(2017,-0.9)};
\addplot[lM] coordinates {(2011,-1.6)(2012,0.2)(2013,-0.4)(2014,0.3)(2015,-0.2)(2016,0.7)(2017,0.2)};
\addplot[lY] coordinates {(2009,-0.2)(2010,0.5)(2011,-0.4)(2012,0.3)(2013,-0.3)(2014,0.6)(2015,-0.4)(2016,0.3)(2017,0.9)};
\addplot[lG] coordinates {(2010,0.3)(2011,-0.5)(2012,0.6)(2013,-0.2)(2014,0.2)(2015,0.6)(2016,-0.6)(2017,0.1)};
\addplot[lA] coordinates {(2010,0.7)(2011,-0.2)(2012,0.4)(2013,-0.5)(2014,0.6)(2015,-0.3)(2016,0.8)(2017,0.2)};
\addplot[lV] coordinates {(2012,0.4)(2013,-0.3)(2014,0.8)(2015,0.0)(2016,0.5)(2017,-0.3)};
\addplot[reg] coordinates {(2006,0.02)(2017,0.30)};
\stats{0.00276}{0.025}{2.5}
\end{axis}
\ttl{442}{967.5}{アオスジアゲハ（+3.2\%）}
\begin{axis}[pan,at={(355pt,950.5pt)},ymin=-2.11,ymax=1.83,ytick={-2,-1,0,1},yticklabels={−2,−1,0,1}]
\addplot[lR] coordinates {(2006,0.0)(2007,0.4)(2008,-0.3)(2009,0.2)(2010,0.5)(2011,-0.2)(2012,-1.0)(2013,0.3)(2014,0.1)};
\addplot[lO] coordinates {(2005,-0.4)(2006,0.2)(2007,-0.6)(2008,0.3)(2009,-0.2)(2010,0.6)(2011,-0.4)(2012,0.2)(2013,-0.5)(2014,-1.0)(2015,-1.0)(2016,0.5)(2017,-0.3)};
\addplot[lY] coordinates {(2008,-0.5)(2009,0.3)(2010,1.2)(2011,-0.2)(2012,0.4)(2013,-1.4)(2014,0.3)(2015,-0.3)(2016,0.2)(2017,-0.2)};
\addplot[lYG] coordinates {(2008,-1.3)(2009,0.5)(2010,-0.3)(2011,0.3)(2012,-0.6)(2013,0.2)(2014,-1.3)(2015,0.6)(2016,-0.2)(2017,1.0)};
\addplot[lG] coordinates {(2009,-1.6)(2010,0.4)(2011,-0.1)(2012,0.5)(2013,-0.3)(2014,-1.6)(2015,0.3)(2016,0.1)(2017,0.6)};
\addplot[lSG] coordinates {(2009,0.2)(2010,-0.5)(2011,0.5)(2012,-0.2)(2013,0.4)(2014,0.0)(2015,-0.5)(2016,0.3)(2017,0.0)};
\addplot[lC] coordinates {(2008,1.4)(2009,-0.4)(2010,0.2)(2011,-0.6)(2012,0.3)(2013,0.0)(2014,0.5)(2015,-0.2)(2016,0.6)(2017,-0.4)};
\addplot[lA] coordinates {(2009,0.6)(2010,-0.1)(2011,0.4)(2012,-0.3)(2013,0.6)(2014,-0.4)(2015,0.2)(2016,-0.6)(2017,0.3)};
\addplot[lB] coordinates {(2009,-0.1)(2010,0.3)(2011,-0.5)(2012,0.1)(2013,0.9)(2014,-0.2)(2015,0.4)(2016,-0.3)(2017,0.5)};
\addplot[lV] coordinates {(2010,-0.3)(2011,0.2)(2012,-0.2)(2013,-0.8)(2014,0.3)(2015,1.0)(2016,-0.2)(2017,-0.2)};
\addplot[lM] coordinates {(2012,0.0)(2013,0.3)(2014,-0.5)(2015,0.1)(2016,0.4)(2017,-0.1)};
\addplot[lY] coordinates {(2009,0.4)(2010,-0.2)(2011,0.6)(2012,-0.1)(2013,0.3)(2014,0.7)(2015,-0.4)(2016,0.5)(2017,0.1)};
\addplot[lG] coordinates {(2010,0.6)(2011,0.0)(2012,-0.4)(2013,0.5)(2014,0.1)(2015,-0.2)(2016,0.8)(2017,0.3)};
\addplot[lC] coordinates {(2009,-0.3)(2010,0.5)(2011,0.1)(2012,0.6)(2013,-0.3)(2014,0.2)(2015,0.6)(2016,0.0)(2017,0.7)};
\addplot[lB] coordinates {(2010,0.0)(2011,0.6)(2012,-0.4)(2013,0.2)(2014,-0.6)(2015,0.4)(2016,0.6)(2017,-0.1)};
\addplot[reg] coordinates {(2005,0.03)(2017,0.40)};
\stats{0.00325}{0.031}{3.2}
\end{axis}
\ttl{720}{967.5}{クロアゲハ（+3.2\%）}
\begin{axis}[pan,at={(636pt,950.5pt)},ymin=-2.17,ymax=2.23,ytick={-2,-1,0,1,2},yticklabels={−2,−1,0,1,2}]
\addplot[lR] coordinates {(2005,0.55)(2006,0.45)(2007,-0.4)(2008,-0.4)(2009,0.2)(2010,-0.3)(2011,0.1)(2012,0.2)(2013,-1.6)(2014,0.3)};
\addplot[lO] coordinates {(2006,-0.25)(2007,-0.45)(2008,-0.4)(2009,0.5)(2010,-0.3)(2011,0.6)(2012,-0.5)(2013,0.2)(2014,-0.9)(2015,0.4)(2016,-0.4)(2017,1.7)};
\addplot[lY] coordinates {(2008,1.1)(2009,0.0)(2010,-0.5)(2011,0.4)(2012,1.2)(2013,-0.6)(2014,0.3)(2015,-1.0)(2016,0.2)(2017,-0.5)};
\addplot[lYG] coordinates {(2009,-1.1)(2010,0.5)(2011,-0.3)(2012,-1.6)(2013,0.4)(2014,-0.2)(2015,0.6)(2016,-0.6)(2017,0.3)};
\addplot[lG] coordinates {(2009,0.3)(2010,-0.6)(2011,0.2)(2012,-0.3)(2013,0.5)(2014,-1.1)(2015,0.2)(2016,0.8)(2017,-1.3)};
\addplot[lSG] coordinates {(2009,-0.5)(2010,0.2)(2011,-0.9)(2012,0.3)(2013,-0.2)(2014,0.4)(2015,-0.5)(2016,0.1)(2017,0.6)};
\addplot[lC] coordinates {(2009,0.6)(2010,-0.2)(2011,0.5)(2012,-0.7)(2013,0.2)(2014,-0.4)(2015,0.7)(2016,-0.9)(2017,0.2)};
\addplot[lA] coordinates {(2008,-1.1)(2009,0.1)(2010,0.8)(2011,-0.5)(2012,0.4)(2013,-0.3)(2014,0.2)(2015,-0.6)(2016,0.5)(2017,-0.2)};
\addplot[lB] coordinates {(2009,-0.3)(2010,0.9)(2011,-0.2)(2012,0.2)(2013,-0.8)(2014,0.5)(2015,-0.3)(2016,0.9)(2017,0.4)};
\addplot[lV] coordinates {(2010,-0.4)(2011,1.2)(2012,0.0)(2013,0.3)(2014,-1.0)(2015,0.2)(2016,-0.2)(2017,0.8)};
\addplot[lM] coordinates {(2011,-0.3)(2012,0.2)(2013,-0.5)(2014,0.3)(2015,-0.2)(2016,-1.5)(2017,0.1)};
\addplot[lP] coordinates {(2012,0.5)(2013,-0.1)(2014,-0.6)(2015,0.3)(2016,0.1)(2017,-0.9)};
\addplot[lY] coordinates {(2009,0.4)(2010,-0.1)(2011,0.7)(2012,-0.2)(2013,0.6)(2014,0.0)(2015,-0.5)(2016,0.5)(2017,0.0)};
\addplot[lG] coordinates {(2009,-0.2)(2010,0.4)(2011,-0.6)(2012,0.6)(2013,-0.4)(2014,0.7)(2015,0.0)(2016,-0.3)(2017,0.9)};
\addplot[lC] coordinates {(2010,0.5)(2011,-0.2)(2012,0.1)(2013,0.6)(2014,-0.6)(2015,0.5)(2016,0.2)(2017,-0.4)};
\addplot[lV] coordinates {(2011,0.3)(2012,-0.4)(2013,0.8)(2014,-0.2)(2015,0.6)(2016,0.3)(2017,-0.1)};
\addplot[reg] coordinates {(2005,0.02)(2017,0.40)};
\stats{0.00985}{0.032}{3.2}
\end{axis}
\ttls{1002}{967.5}{ツマグロヒョウモン（+3.7\%）}
\begin{axis}[pan,at={(918pt,950.5pt)},ymin=-2.42,ymax=1.82,ytick={-2,-1,0,1},yticklabels={−2,−1,0,1}]
\addplot[lR] coordinates {(2005,0.2)(2006,0.3)(2007,0.4)(2008,-0.7)(2009,0.4)(2010,0.3)(2011,0.2)(2012,0.7)(2013,0.4)};
\addplot[lO] coordinates {(2006,0.1)(2007,-0.4)(2008,1.0)(2009,0.3)(2010,-0.2)(2011,0.5)(2012,0.0)(2013,-0.5)(2014,0.3)(2015,0.6)(2016,0.9)(2017,0.6)};
\addplot[lY] coordinates {(2008,0.2)(2009,0.5)(2010,-0.3)(2011,0.4)(2012,-0.2)(2013,0.6)(2014,-1.9)(2015,0.3)(2016,0.8)(2017,0.2)};
\addplot[lYG] coordinates {(2008,-0.4)(2009,0.6)(2010,0.1)(2011,-0.7)(2012,0.4)(2013,-0.3)(2014,0.5)(2015,-1.2)(2016,0.5)(2017,-0.5)};
\addplot[lG] coordinates {(2009,0.3)(2010,-0.4)(2011,0.5)(2012,-0.1)(2013,0.7)(2014,0.1)(2015,0.4)(2016,0.0)(2017,-1.8)};
\addplot[lSG] coordinates {(2009,-0.2)(2010,0.4)(2011,-0.3)(2012,0.3)(2013,0.0)(2014,0.6)(2015,-0.2)(2016,0.7)(2017,0.1)};
\addplot[lC] coordinates {(2009,0.5)(2010,-0.8)(2011,0.2)(2012,1.4)(2013,-0.4)(2014,0.3)(2015,0.9)(2016,-0.3)(2017,0.4)};
\addplot[lA] coordinates {(2009,-1.6)(2010,0.3)(2011,-0.6)(2012,0.2)(2013,-0.9)(2014,0.4)(2015,1.4)(2016,0.5)(2017,-0.4)};
\addplot[lB] coordinates {(2009,0.0)(2010,-1.2)(2011,0.4)(2012,-0.3)(2013,0.5)(2014,-0.4)(2015,0.2)(2016,1.1)(2017,-0.35)};
\addplot[lV] coordinates {(2010,0.2)(2011,-0.5)(2012,0.3)(2013,-0.2)(2014,-1.4)(2015,0.2)(2016,1.0)(2017,-1.1)};
\addplot[lM] coordinates {(2011,-0.2)(2012,-1.1)(2013,-1.1)(2014,-1.45)(2015,0.3)(2016,0.6)(2017,0.2)};
\addplot[lY] coordinates {(2009,-0.2)(2010,0.5)(2011,0.0)(2012,0.6)(2013,-0.4)(2014,0.4)(2015,0.1)(2016,0.5)(2017,-0.3)};
\addplot[lG] coordinates {(2010,0.2)(2011,0.6)(2012,-0.3)(2013,0.4)(2014,-0.2)(2015,0.7)(2016,0.2)(2017,0.7)};
\addplot[lC] coordinates {(2009,0.2)(2010,-0.3)(2011,0.4)(2012,-0.5)(2013,0.3)(2014,-0.8)(2015,0.5)(2016,0.9)(2017,0.1)};
\addplot[lB] coordinates {(2011,0.1)(2012,0.5)(2013,-0.6)(2014,0.2)(2015,-0.3)(2016,0.4)(2017,0.8)};
\addplot[reg] coordinates {(2005,0.03)(2017,0.47)};
\stats{0.00375}{0.037}{3.7}
\end{axis}
% ---------------- Row 5 ----------------
\ttl{147}{718}{モンシロチョウ（+4.1\%）}
\begin{axis}[pan,at={(73pt,701pt)},ymin=-2.04,ymax=2.05,ytick={-2,-1,0,1,2},yticklabels={−2,−1,0,1,2}]
\addplot[lR] coordinates {(2005,-0.6)(2006,-0.7)(2007,-0.95)(2008,-0.9)(2009,0.2)};
\addplot[lR] coordinates {(2005,0.1)(2006,0.2)(2007,0.2)(2008,0.15)(2009,-0.4)(2010,0.3)};
\addplot[lO] coordinates {(2006,-0.4)(2007,0.9)(2008,-0.2)(2009,0.3)(2010,1.5)(2011,-0.2)(2012,0.6)(2013,0.2)(2014,0.8)(2015,-0.3)(2016,0.4)(2017,-1.0)};
\addplot[lY] coordinates {(2008,-0.5)(2009,0.4)(2010,-1.1)(2011,-1.4)(2012,0.3)(2013,0.9)(2014,0.1)(2015,0.6)(2016,-0.2)(2017,0.8)};
\addplot[lYG] coordinates {(2008,0.7)(2009,-0.6)(2010,0.9)(2011,-0.2)(2012,0.5)(2013,-0.4)(2014,0.7)(2015,0.0)(2016,0.9)(2017,0.3)};
\addplot[lG] coordinates {(2008,-1.4)(2009,1.0)(2010,-1.6)(2011,0.6)(2012,-0.3)(2013,0.4)(2014,-1.2)(2015,0.8)(2016,0.1)(2017,1.2)};
\addplot[lSG] coordinates {(2009,-0.3)(2010,0.5)(2011,0.1)(2012,-0.6)(2013,0.7)(2014,0.2)(2015,-0.4)(2016,0.6)(2017,0.0)};
\addplot[lC] coordinates {(2009,0.3)(2010,-0.4)(2011,1.0)(2012,0.0)(2013,-0.7)(2014,0.5)(2015,0.3)(2016,-0.5)(2017,1.6)};
\addplot[lA] coordinates {(2009,-1.1)(2010,0.2)(2011,-0.5)(2012,1.3)(2013,0.0)(2014,0.4)(2015,-0.3)(2016,0.3)(2017,0.5)};
\addplot[lB] coordinates {(2009,0.2)(2010,-0.6)(2011,1.4)(2012,-0.2)(2013,-1.5)(2014,0.8)(2015,-0.8)(2016,-1.0)(2017,0.6)};
\addplot[lV] coordinates {(2010,0.4)(2011,0.0)(2012,0.6)(2013,0.9)(2014,0.2)(2015,0.5)(2016,0.3)(2017,0.2)};
\addplot[lM] coordinates {(2012,0.2)(2013,0.5)(2014,0.0)(2015,0.7)(2016,-0.2)(2017,0.4)};
\addplot[lY] coordinates {(2009,-0.2)(2010,0.6)(2011,-0.6)(2012,0.2)(2013,0.4)(2014,-0.5)(2015,1.0)(2016,0.2)(2017,-0.3)};
\addplot[lG] coordinates {(2009,0.5)(2010,0.0)(2011,-0.9)(2012,0.8)(2013,-0.2)(2014,1.1)(2015,0.3)(2016,-0.7)(2017,0.9)};
\addplot[lA] coordinates {(2010,-0.3)(2011,0.7)(2012,-0.5)(2013,0.5)(2014,-0.4)(2015,0.9)(2016,0.6)(2017,0.1)};
\addplot[lV] coordinates {(2011,0.5)(2012,-0.1)(2013,0.3)(2014,0.9)(2015,0.0)(2016,0.7)(2017,-0.4)};
\addplot[reg] coordinates {(2005,0.03)(2017,0.51)};
\stats{6e-04}{0.04}{4.1}
\end{axis}
\ttl{442}{718}{ルリシジミ（+4.4\%）}
\begin{axis}[pan,at={(355pt,701pt)},ymin=-3.81,ymax=2.37,ytick={-3,-2,-1,0,1,2},yticklabels={−3,−2,−1,0,1,2}]
\addplot[lR] coordinates {(2005,-0.4)(2006,0.5)(2007,1.05)(2008,0.6)(2009,0.4)(2010,0.7)};
\addplot[lO] coordinates {(2006,-0.7)(2007,0.3)(2008,0.2)(2009,0.9)(2010,-0.3)(2011,1.2)(2012,-1.4)(2013,0.3)(2014,-1.6)(2015,0.5)(2016,0.2)(2017,-0.1)};
\addplot[lY] coordinates {(2008,0.1)(2009,0.6)(2010,-0.5)(2011,-1.8)(2012,0.4)(2013,-0.3)(2014,0.6)(2015,-0.2)(2016,0.4)(2017,0.8)};
\addplot[lYG] coordinates {(2008,-0.9)(2009,0.5)(2010,-0.2)(2011,0.6)(2012,-0.4)(2013,0.9)(2014,0.0)(2015,-0.9)(2016,-1.6)(2017,0.5)};
\addplot[lG] coordinates {(2008,-3.1)(2009,-1.0)(2010,1.3)(2011,-0.3)(2012,0.5)(2013,-0.8)(2014,0.4)(2015,0.2)(2016,0.6)(2017,1.3)};
\addplot[lSG] coordinates {(2009,0.8)(2010,0.0)(2011,0.5)(2012,-0.6)(2013,0.3)(2014,-0.2)(2015,0.7)(2016,-0.3)(2017,0.2)};
\addplot[lC] coordinates {(2009,-1.2)(2010,-1.2)(2011,0.3)(2012,0.1)(2013,1.2)(2014,-0.5)(2015,0.4)(2016,0.9)(2017,-0.7)};
\addplot[lA] coordinates {(2008,1.6)(2009,-0.2)(2010,0.6)(2011,-0.4)(2012,0.2)(2013,-0.2)(2014,0.8)(2015,-0.5)(2016,0.3)(2017,0.6)};
\addplot[lB] coordinates {(2009,0.3)(2010,-0.3)(2011,0.9)(2012,-0.5)(2013,0.5)(2014,-0.8)(2015,1.2)(2016,0.1)(2017,0.4)};
\addplot[lV] coordinates {(2010,0.2)(2011,-0.6)(2012,-0.7)(2013,0.4)(2014,-0.3)(2015,0.6)(2016,0.0)(2017,1.1)};
\addplot[lM] coordinates {(2011,0.0)(2012,0.5)(2013,-0.4)(2014,0.2)(2015,0.5)(2016,0.8)(2017,-0.2)};
\addplot[lY] coordinates {(2009,0.2)(2010,0.8)(2011,-0.2)(2012,0.6)(2013,-0.6)(2014,0.3)(2015,0.9)(2016,-0.2)(2017,0.6)};
\addplot[lG] coordinates {(2009,-0.4)(2010,0.3)(2011,0.9)(2012,-0.2)(2013,0.6)(2014,0.1)(2015,-0.4)(2016,0.7)(2017,0.2)};
\addplot[lC] coordinates {(2010,0.5)(2011,-0.1)(2012,0.8)(2013,0.0)(2014,0.5)(2015,-0.6)(2016,0.6)(2017,1.0)};
\addplot[lB] coordinates {(2010,-0.5)(2011,0.4)(2012,0.0)(2013,-0.5)(2014,1.0)(2015,0.3)(2016,0.7)(2017,0.0)};
\addplot[reg] coordinates {(2005,0.03)(2017,0.55)};
\stats{0.00346}{0.043}{4.4}
\end{axis}
\ttl{722}{718}{クロコノマチョウ（+5.8\%）}
\begin{axis}[pan,at={(636pt,701pt)},ymin=-1.34,ymax=2.0,ytick={-1,-0.5,0,0.5,1,1.5},yticklabels={−1.0,,0.0,0.5,1.0,1.5}]
\addplot[lO] coordinates {(2005,-0.05)(2006,0.35)(2007,-0.45)(2008,-0.55)(2009,0.55)(2010,-0.2)(2011,0.7)(2012,-0.45)(2013,-0.4)};
\addplot[lR] coordinates {(2007,-0.75)(2008,-0.15)(2009,0.55)(2010,-0.73)(2011,-0.73)(2012,-0.73)(2013,-0.73)(2014,-0.73)(2015,-0.73)(2016,-0.73)(2017,0.72)};
\addplot[lO] coordinates {(2011,1.4)(2012,-0.5)(2013,1.1)(2014,-0.7)(2015,0.3)(2016,1.3)(2017,0.9)};
\addplot[lY] coordinates {(2009,-0.65)(2010,-0.95)(2011,0.5)(2012,0.6)(2013,0.6)(2014,0.3)(2015,-0.5)(2016,0.2)(2017,1.2)};
\addplot[lYG] coordinates {(2008,1.6)(2009,0.2)(2010,-0.8)(2011,0.8)(2012,-0.4)(2013,0.1)(2014,-0.2)(2015,0.6)(2016,-0.05)(2017,1.5)};
\addplot[lG] coordinates {(2009,1.4)(2010,0.3)(2011,-0.2)(2012,-0.92)(2013,-0.9)(2014,0.2)(2015,0.4)(2016,0.8)(2017,0.15)};
\addplot[lSG] coordinates {(2009,0.6)(2010,0.1)(2011,0.8)(2012,-0.1)(2013,0.15)(2014,0.15)(2015,0.15)(2016,0.15)(2017,0.15)};
\addplot[lC] coordinates {(2008,1.2)(2009,0.7)(2010,0.2)(2011,0.6)(2012,-0.3)(2013,-0.2)(2014,-0.65)(2015,-0.1)(2016,0.9)(2017,0.8)};
\addplot[lA] coordinates {(2009,0.5)(2010,1.0)(2011,-0.1)(2012,0.1)(2013,-0.5)(2014,-0.1)(2015,0.5)(2016,0.3)(2017,0.6)};
\addplot[lB] coordinates {(2009,0.5)(2010,0.3)(2011,0.25)(2012,0.1)(2013,0.05)};
\addplot[lV] coordinates {(2009,-0.2)(2010,1.15)(2011,0.5)(2012,0.9)(2013,0.6)(2014,0.4)(2015,0.6)(2016,1.05)(2017,0.6)};
\addplot[lP] coordinates {(2010,-0.7)(2011,0.2)(2012,-0.32)(2013,-0.32)(2014,-0.32)(2015,-0.32)(2016,-0.32)(2017,0.75)};
\addplot[lM] coordinates {(2013,0.6)(2014,0.8)(2015,1.0)(2016,0.6)(2017,-0.75)};
\addplot[reg] coordinates {(2005,0.05)(2017,0.73)};
\stats{0.03505}{0.057}{5.8}
\end{axis}
\ttl{1002}{718}{サカハチチョウ（+5.9\%）}
\begin{axis}[pan,at={(918pt,701pt)},ymin=-1.53,ymax=1.5,ytick={-1.5,-1,-0.5,0,0.5,1,1.5},yticklabels={−1.5,−1.0,−0.5,0.0,0.5,1.0,1.5}]
\addplot[lY] coordinates {(2008,0.3)(2009,-1.2)(2010,0.9)(2011,0.25)(2012,0.2)(2013,0.15)(2014,0.05)(2015,0.05)(2016,-0.05)(2017,-0.1)};
\addplot[lC] coordinates {(2008,0.5)(2009,0.7)(2010,-0.6)(2011,-0.6)(2012,0.3)(2013,-0.3)};
\addplot[lYG] coordinates {(2010,1.1)(2011,0.0)(2012,0.0)(2013,-0.7)(2014,-0.1)(2015,0.4)(2016,0.4)(2017,0.4)};
\addplot[lG] coordinates {(2009,-0.25)(2010,-0.4)(2011,1.05)(2012,-0.45)(2013,-0.45)(2014,0.3)(2015,0.0)(2016,0.75)(2017,0.75)};
\addplot[lSG] coordinates {(2011,-0.55)(2012,0.0)(2013,0.75)(2014,-0.6)(2015,0.4)};
\addplot[lO] coordinates {(2011,-0.2)(2012,0.5)(2013,0.4)(2014,0.2)(2015,0.1)};
\addplot[lA] coordinates {(2010,-1.0)(2011,0.8)(2012,0.9)(2013,0.3)(2014,1.15)(2015,-0.7)(2016,-0.3)(2017,-0.7)};
\addplot[lB] coordinates {(2009,0.0)(2010,-0.4)};
\addplot[lV] coordinates {(2013,0.1)(2014,0.3)(2015,-0.05)(2016,0.5)(2017,-0.35)};
\addplot[lM] coordinates {(2016,0.5)(2017,0.95)};
\addplot[reg] coordinates {(2008,0.05)(2017,0.56)};
\stats{0.01073}{0.057}{5.9}
\end{axis}
% ---------------- Row 6 ----------------
\ttl{147}{468.5}{ジャコウアゲハ（+6.1\%）}
\begin{axis}[pan,at={(73pt,451.5pt)},ymin=-1.83,ymax=2.04,ytick={-1.5,-1,-0.5,0,0.5,1,1.5,2},yticklabels={−1.5,,−0.5,,0.5,1.0,1.5,2.0}]
\addplot[lR] coordinates {(2006,0.5)(2007,0.5)(2008,0.7)(2009,0.15)(2010,0.1)(2011,0.1)(2012,0.6)(2013,1.05)(2014,-0.9)(2015,-0.9)(2016,-0.1)(2017,0.15)};
\addplot[lO] coordinates {(2008,0.0)(2009,0.0)(2010,0.1)(2011,0.1)(2012,-0.2)(2013,-0.3)(2014,-0.5)(2015,-0.5)(2016,0.4)(2017,0.1)};
\addplot[lY] coordinates {(2008,1.4)(2009,0.3)(2010,0.2)(2011,-0.2)(2012,0.6)(2013,0.1)(2014,0.5)(2015,0.3)(2016,0.2)(2017,0.6)};
\addplot[lYG] coordinates {(2008,1.5)(2009,-0.5)(2010,0.4)(2011,0.8)(2012,1.3)(2013,-0.3)(2014,0.4)(2015,0.2)(2016,-0.1)(2017,-0.1)};
\addplot[lG] coordinates {(2008,-1.3)(2009,0.5)(2010,-0.1)(2011,0.9)(2012,-0.7)(2013,0.3)(2014,-0.1)(2015,-0.1)(2016,-1.0)(2017,-0.6)};
\addplot[lSG] coordinates {(2009,-0.6)(2010,0.4)(2011,0.0)(2012,-0.1)(2013,0.5)(2014,0.2)(2015,0.4)(2016,0.3)(2017,0.8)};
\addplot[lC] coordinates {(2009,0.4)(2010,0.95)(2011,0.2)(2012,0.0)(2013,-1.4)(2014,0.8)(2015,0.8)(2016,0.5)(2017,1.0)};
\addplot[lA] coordinates {(2009,0.75)(2010,0.6)(2011,0.5)(2012,-0.2)(2013,-0.2)(2014,0.7)(2015,0.9)(2016,1.0)(2017,1.4)};
\addplot[lB] coordinates {(2009,0.7)(2010,0.65)(2011,-0.3)(2012,-0.3)(2013,-0.3)(2014,-0.3)(2015,0.6)(2016,0.55)(2017,1.2)};
\addplot[lV] coordinates {(2010,0.2)(2011,-0.1)(2012,0.3)(2013,0.4)(2014,0.2)(2015,0.7)(2016,0.9)(2017,1.5)};
\addplot[lM] coordinates {(2014,0.5)(2015,0.3)(2016,0.4)(2017,0.2)};
\addplot[reg] coordinates {(2006,0.02)(2017,0.67)};
\stats{0.00572}{0.059}{6.1}
\end{axis}
\ttl{442}{468.5}{コジャノメ（+6.8\%）}
\begin{axis}[pan,at={(355pt,451.5pt)},ymin=-2.61,ymax=2.46,ytick={-2,-1,0,1,2},yticklabels={−2,−1,0,1,2}]
\addplot[lR] coordinates {(2006,-0.3)(2007,-0.2)(2008,-0.05)(2009,0.3)(2010,-0.3)};
\addplot[lO] coordinates {(2005,1.1)(2006,0.5)(2007,-0.2)(2008,0.4)(2009,-0.7)(2010,0.3)(2011,0.9)(2012,-0.3)(2013,0.5)(2014,1.5)(2015,0.3)(2016,0.6)(2017,-0.7)};
\addplot[lY] coordinates {(2008,-0.5)(2009,0.2)(2010,-1.6)(2011,0.6)(2012,0.4)(2013,-2.0)(2014,0.7)(2015,0.2)(2016,0.9)(2017,1.5)};
\addplot[lYG] coordinates {(2008,-1.1)(2009,-1.9)(2010,0.5)(2011,-0.4)(2012,1.3)(2013,0.1)(2014,-0.6)(2015,1.0)(2016,0.3)(2017,0.8)};
\addplot[lG] coordinates {(2009,0.8)(2010,-0.5)(2011,-2.0)(2012,0.9)(2013,-0.3)(2014,0.4)(2015,1.2)(2016,-0.2)(2017,1.8)};
\addplot[lSG] coordinates {(2009,-0.3)(2010,0.7)(2011,0.2)(2012,-0.6)(2013,1.4)(2014,0.0)(2015,0.5)(2016,1.3)(2017,0.4)};
\addplot[lC] coordinates {(2009,1.2)(2010,0.3)(2011,-1.5)(2012,-1.5)(2013,0.6)(2014,-0.5)(2015,0.8)(2016,0.3)(2017,1.8)};
\addplot[lA] coordinates {(2009,0.2)(2010,0.9)(2011,-0.4)(2012,0.4)(2013,-0.9)(2014,0.9)(2015,-0.2)(2016,0.7)(2017,0.0)};
\addplot[lB] coordinates {(2010,0.6)(2011,0.3)(2012,-0.2)(2013,0.5)(2014,0.2)(2015,1.0)(2016,1.0)(2017,1.4)};
\addplot[lV] coordinates {(2010,-0.9)(2011,0.7)(2012,0.1)(2013,-0.5)(2014,0.6)(2015,-0.3)(2016,1.4)(2017,0.3)};
\addplot[lM] coordinates {(2011,0.3)(2012,0.6)(2013,0.2)(2014,0.8)(2015,0.4)(2016,0.0)(2017,-0.4)};
\addplot[lY] coordinates {(2009,-0.8)(2010,0.2)(2011,0.9)(2012,-0.5)(2013,0.6)(2014,0.1)(2015,0.7)(2016,-0.4)(2017,1.1)};
\addplot[lG] coordinates {(2009,0.4)(2010,-1.1)(2011,0.5)(2012,0.3)(2013,-0.6)(2014,1.0)(2015,0.2)(2016,0.9)(2017,0.5)};
\addplot[lA] coordinates {(2010,0.2)(2011,0.8)(2012,-0.9)(2013,0.3)(2014,0.5)(2015,-0.4)(2016,1.1)(2017,0.6)};
\addplot[lV] coordinates {(2011,-0.4)(2012,0.4)(2013,0.9)(2014,0.0)(2015,0.6)(2016,0.4)(2017,1.2)};
\addplot[reg] coordinates {(2005,0.05)(2017,0.84)};
\stats{0.00997}{0.066}{6.8}
\end{axis}
\ttl{721}{468.5}{ムラサキツバメ（+7.0\%）}
\begin{axis}[pan,at={(636pt,451.5pt)},ymin=-1.28,ymax=1.69,ytick={-1,-0.5,0,0.5,1,1.5},yticklabels={−1.0,−0.5,0.0,0.5,1.0,1.5}]
\addplot[lO] coordinates {(2010,-1.1)(2012,-0.5)(2013,0.1)(2014,0.7)(2015,1.1)(2016,1.35)};
\addplot[lY] coordinates {(2010,-0.55)(2011,-0.55)(2012,-0.55)(2013,-0.55)(2014,-0.55)(2015,-0.55)(2016,0.6)};
\addplot[lYG] coordinates {(2008,0.2)(2009,0.15)(2010,-0.05)(2011,0.0)(2012,0.05)(2013,0.1)(2014,0.15)(2015,0.15)(2016,0.1)(2017,0.15)};
\addplot[lG] coordinates {(2009,0.35)(2010,0.4)(2011,0.4)(2012,0.45)(2013,0.5)(2014,-0.1)(2015,0.7)(2016,0.6)(2017,-0.3)};
\addplot[lC] coordinates {(2008,0.25)(2009,0.0)(2010,0.3)(2011,0.5)(2012,-0.15)(2013,0.3)(2014,0.9)(2015,0.75)(2016,0.7)(2017,0.0)};
\addplot[lA] coordinates {(2011,0.55)(2012,-0.1)(2013,0.3)(2014,0.5)(2015,0.6)(2016,0.3)};
\addplot[lB] coordinates {(2009,1.0)(2010,0.6)(2011,0.1)(2014,0.2)(2015,0.3)(2016,0.5)(2017,-0.95)};
\addplot[lV] coordinates {(2013,-0.8)(2014,-0.7)(2015,0.2)(2016,0.8)(2017,0.15)};
\addplot[lM] coordinates {(2015,-0.2)(2016,0.3)(2017,1.25)};
\addplot[reg] coordinates {(2008,0.07)(2017,0.67)};
\stats{0.06683}{0.067}{7}
\end{axis}
\ttl{1000}{468.5}{テングチョウ（+8.0\%）}
\begin{axis}[pan,at={(918pt,451.5pt)},ymin=-3.35,ymax=2.8,ytick={-3,-2,-1,0,1,2},yticklabels={−3,−2,−1,0,1,2}]
\addplot[lR] coordinates {(2006,1.45)(2007,1.0)(2008,0.6)(2009,0.3)(2010,-0.1)(2011,-0.35)(2012,-0.35)(2013,-0.35)(2014,-0.35)(2015,-0.35)(2016,-0.35)(2017,-0.35)};
\addplot[lR] coordinates {(2005,-0.25)(2006,-0.6)(2007,-1.45)(2008,-0.6)(2009,-0.3)(2010,-1.1)};
\addplot[lO] coordinates {(2008,-0.3)(2009,-0.3)(2010,-1.3)(2011,-0.5)(2012,-2.65)(2013,1.0)(2014,1.4)(2015,0.3)(2016,0.7)(2017,1.0)};
\addplot[lY] coordinates {(2008,-0.2)(2009,0.9)(2010,-0.6)(2011,0.3)(2012,0.8)(2013,0.5)(2014,-0.65)(2015,-0.65)(2016,-0.65)(2017,0.3)};
\addplot[lYG] coordinates {(2008,-2.3)(2009,0.6)(2010,-1.2)(2011,0.5)(2012,-0.5)(2013,1.5)(2014,1.1)(2015,0.2)(2016,1.2)(2017,-0.3)};
\addplot[lG] coordinates {(2009,1.3)(2010,-1.8)(2011,0.2)(2012,-0.8)(2013,0.7)(2014,1.9)(2015,0.8)(2016,0.3)(2017,-1.5)};
\addplot[lSG] coordinates {(2009,-0.9)(2010,0.5)(2011,-0.3)(2012,0.9)(2013,0.2)(2014,1.3)(2015,0.5)(2016,-0.1)(2017,0.6)};
\addplot[lC] coordinates {(2008,2.0)(2009,0.0)(2010,-1.5)(2011,-2.1)(2012,0.3)(2013,0.9)(2014,0.4)(2015,1.3)(2016,0.7)(2017,1.3)};
\addplot[lA] coordinates {(2009,0.5)(2010,-0.7)(2011,0.8)(2012,-0.2)(2013,1.2)(2014,0.9)(2015,1.1)(2016,1.3)(2017,0.1)};
\addplot[lB] coordinates {(2010,-0.9)(2011,-1.5)(2012,0.6)(2013,-0.3)(2014,2.0)(2015,0.7)(2016,1.0)(2017,0.4)};
\addplot[lV] coordinates {(2009,-2.2)(2010,-1.6)(2011,-0.5)(2012,0.4)(2013,0.9)(2014,1.4)(2015,0.2)(2016,0.6)(2017,1.7)};
\addplot[lM] coordinates {(2012,0.2)(2013,0.6)(2014,1.3)(2015,0.5)(2016,0.9)(2017,0.0)};
\addplot[lY] coordinates {(2009,0.2)(2010,-0.9)(2011,0.6)(2012,0.0)(2013,1.1)(2014,0.6)(2015,0.9)(2016,0.3)(2017,0.7)};
\addplot[lG] coordinates {(2009,-0.4)(2010,0.2)(2011,-1.0)(2012,0.5)(2013,0.3)(2014,1.6)(2015,0.4)(2016,0.9)(2017,0.2)};
\addplot[lC] coordinates {(2010,0.4)(2011,-0.6)(2012,1.0)(2013,0.4)(2014,1.1)(2015,0.0)(2016,0.6)(2017,1.3)};
\addplot[lB] coordinates {(2010,0.0)(2011,0.5)(2012,-0.5)(2013,0.8)(2014,1.5)(2015,1.2)(2016,0.5)(2017,0.9)};
\addplot[reg] coordinates {(2005,0.05)(2017,0.97)};
\stats{0.00466}{0.077}{8}
\end{axis}
% ---------------- Row 7 ----------------
\ttl{148}{219}{ヒオドシチョウ（+9.3\%）}
\begin{axis}[pan,at={(73pt,202pt)},ymin=-1.69,ymax=2.35,ytick={-1,0,1,2},yticklabels={−1,0,1,2}]
\addplot[lR] coordinates {(2006,0.25)(2007,-1.2)(2008,-0.1)(2009,0.18)(2013,-0.48)(2014,-0.1)};
\addplot[lO] coordinates {(2011,0.75)(2012,0.6)(2013,0.7)(2014,0.2)(2015,0.5)(2016,0.9)(2017,0.1)};
\addplot[lY] coordinates {(2009,0.1)(2010,0.2)(2011,0.4)(2012,0.5)(2013,0.8)(2014,1.65)(2015,1.3)(2016,0.6)(2017,0.05)};
\addplot[lYG] coordinates {(2009,-0.1)(2010,0.2)(2011,0.3)(2012,0.6)(2013,-0.7)(2014,1.75)(2015,1.2)(2016,0.8)(2017,0.85)};
\addplot[lG] coordinates {(2009,0.05)(2010,0.05)(2011,0.05)(2012,-0.05)(2013,1.4)(2014,0.5)(2015,1.6)(2016,0.4)(2017,0.05)};
\addplot[lSG] coordinates {(2010,0.1)(2011,0.05)(2012,0.05)(2013,0.0)(2014,0.05)(2015,1.3)(2016,1.0)(2017,-0.05)};
\addplot[lC] coordinates {(2009,0.9)(2010,0.93)(2011,-0.65)(2012,-1.15)(2013,0.7)(2014,1.25)(2015,1.3)(2016,-0.1)(2017,-0.05)};
\addplot[lA] coordinates {(2011,0.05)(2012,0.05)(2013,0.1)(2014,0.05)(2015,1.6)(2016,1.15)(2017,-0.35)};
\addplot[lB] coordinates {(2009,-0.35)(2011,0.0)(2013,-0.1)(2014,0.7)(2015,1.75)(2016,0.8)(2017,-0.4)};
\addplot[lV] coordinates {(2009,0.8)(2011,0.25)(2013,0.6)(2014,1.2)(2015,0.1)(2016,0.1)(2017,0.1)};
\addplot[lM] coordinates {(2014,1.2)(2015,1.2)(2016,-0.05)(2017,0.2)};
\addplot[reg] coordinates {(2006,0.08)(2017,1.06)};
\stats{0.07514}{0.089}{9.3}
\end{axis}
\ttl{442}{219}{ナガサキアゲハ（+10.0\%）}
\begin{axis}[pan,at={(355pt,202pt)},ymin=-2.01,ymax=2.19,ytick={-2,-1,0,1,2},yticklabels={−2,−1,0,1,2}]
\addplot[lO] coordinates {(2006,0.3)(2007,-0.7)(2008,0.0)(2009,0.1)(2010,1.0)(2011,1.25)(2012,1.45)};
\addplot[lR] coordinates {(2011,0.3)(2012,1.5)(2013,-0.1)};
\addplot[lY] coordinates {(2009,-1.6)(2010,-0.7)(2011,-0.6)(2012,0.2)(2013,0.3)(2014,0.2)(2015,0.1)(2016,0.6)(2017,0.8)};
\addplot[lYG] coordinates {(2008,-0.3)(2009,0.4)(2010,-1.2)(2011,0.5)(2012,0.6)(2013,0.3)(2014,1.4)(2015,0.5)(2016,1.1)(2017,1.6)};
\addplot[lG] coordinates {(2008,-0.4)(2009,1.2)(2010,0.1)(2011,0.7)(2012,0.75)(2013,0.2)(2014,0.7)(2015,1.3)(2016,0.3)(2017,-0.1)};
\addplot[lSG] coordinates {(2009,0.2)(2010,-0.3)(2011,0.4)(2012,0.2)(2013,0.4)(2014,0.6)(2015,0.8)(2016,1.2)(2017,1.4)};
\addplot[lC] coordinates {(2009,0.9)(2010,0.5)(2011,-1.1)(2012,0.6)(2013,0.2)(2014,0.25)(2015,0.25)(2016,0.5)(2017,0.4)};
\addplot[lA] coordinates {(2008,1.0)(2009,0.4)(2010,0.7)(2011,-0.4)(2012,0.8)(2013,0.6)(2014,0.3)(2015,1.0)(2016,0.3)(2017,1.2)};
\addplot[lB] coordinates {(2010,0.3)(2011,0.8)(2012,0.4)(2013,1.5)(2014,-0.3)(2015,0.8)(2016,-0.1)(2017,1.6)};
\addplot[lV] coordinates {(2010,0.2)(2011,0.3)(2012,0.5)(2013,1.0)(2014,0.5)(2015,-0.2)(2016,-0.4)(2017,1.5)};
\addplot[lM] coordinates {(2013,0.7)(2014,0.5)(2015,0.6)(2016,0.45)(2017,0.45)};
\addplot[reg] coordinates {(2006,0.08)(2017,1.14)};
\stats{0.02378}{0.096}{10}
\end{axis}
\ttl{720}{219}{アカシジミ（+13.1\%）}
\begin{axis}[pan,at={(636pt,202pt)},ymin=-2.04,ymax=3.08,ytick={-2,-1,0,1,2,3},yticklabels={−2,−1,0,1,2,3}]
\addplot[lO] coordinates {(2007,-0.95)(2008,-0.95)(2009,-0.95)(2010,-0.95)(2011,-0.95)(2012,0.3)(2013,0.8)(2014,1.2)};
\addplot[lR] coordinates {(2007,0.15)(2008,0.15)(2009,0.15)(2010,0.15)(2011,0.15)(2012,0.15)(2013,0.15)(2014,0.15)(2015,0.15)};
\addplot[lY] coordinates {(2009,-0.2)(2010,0.6)(2011,1.35)(2012,0.4)(2013,0.8)(2014,1.0)(2015,0.5)(2016,1.8)(2017,0.8)};
\addplot[lYG] coordinates {(2010,-0.4)(2011,-1.5)(2012,0.0)(2013,0.9)(2014,-0.3)(2015,2.3)(2016,1.0)(2017,0.9)};
\addplot[lG] coordinates {(2011,0.0)(2012,-0.1)(2013,-0.3)(2014,-0.4)(2015,1.0)(2016,1.9)(2017,-1.4)};
\addplot[lSG] coordinates {(2010,-0.65)(2011,-0.65)(2012,-0.65)(2013,0.6)(2014,1.3)(2015,0.4)(2016,-0.6)(2017,-0.7)};
\addplot[lC] coordinates {(2010,0.8)(2011,0.5)(2012,1.0)(2013,1.2)(2014,2.4)(2015,1.0)(2016,0.3)(2017,-0.8)};
\addplot[lA] coordinates {(2012,0.6)(2013,1.5)(2014,0.9)(2015,1.5)(2016,0.2)(2017,1.3)};
\addplot[lB] coordinates {(2009,0.85)(2010,0.7)(2011,0.6)(2012,0.4)(2013,0.35)(2014,0.15)(2015,0.15)(2016,0.2)(2017,0.2)};
\addplot[lV] coordinates {(2009,-0.5)(2010,0.5)(2011,0.7)(2012,1.2)(2013,1.6)(2014,1.1)(2015,1.2)(2016,0.8)(2017,0.8)};
\addplot[lM] coordinates {(2015,0.8)(2016,0.8)(2017,1.05)};
\addplot[reg] coordinates {(2007,0.13)(2017,1.36)};
\stats{0.05653}{0.123}{13.1}
\end{axis}
\ttls{1001}{219}{ウラナミアカシジミ（+18.3\%）}
\begin{axis}[pan,at={(918pt,202pt)},ymin=-1.77,ymax=3.16,ytick={-1,0,1,2,3},yticklabels={−1,0,1,2,3}]
\addplot[lO] coordinates {(2006,1.2)(2007,1.0)(2008,0.8)(2009,0.6)(2010,0.5)(2011,0.35)(2012,0.2)(2013,0.1)};
\addplot[lY] coordinates {(2010,0.7)(2011,0.7)(2012,1.75)(2013,0.9)(2014,0.4)};
\addplot[lYG] coordinates {(2009,0.7)(2010,0.75)(2011,0.7)(2012,0.7)(2013,1.0)(2014,1.1)(2015,1.2)};
\addplot[lG] coordinates {(2009,0.65)(2010,0.8)(2011,0.75)(2012,0.75)};
\addplot[lSG] coordinates {(2010,0.5)(2011,0.3)(2012,0.6)(2013,1.2)(2014,1.4)(2015,1.7)(2016,1.9)(2017,2.0)};
\addplot[lC] coordinates {(2012,0.5)(2013,0.5)(2014,2.1)(2015,1.4)(2016,1.9)(2017,1.7)};
\addplot[lA] coordinates {(2014,0.5)(2015,1.9)(2016,2.1)(2017,1.5)};
\addplot[lB] coordinates {(2010,-1.2)(2011,-0.9)(2012,-0.45)(2013,1.15)(2014,1.2)(2015,2.5)(2016,1.8)(2017,0.85)};
\addplot[lV] coordinates {(2014,1.6)(2015,1.5)(2016,2.2)(2017,1.55)};
\addplot[lM] coordinates {(2014,1.3)(2015,1.6)(2016,0.7)(2017,0.8)};
\addplot[reg] coordinates {(2006,0.18)(2017,2.03)};
\stats{0.07196}{0.168}{18.3}
\end{axis}
\node[rotate=90,font=\jp\bfseries\fontsize{15}{15}\selectfont] at (12,133) {記録個体数　（調整済：自然対数）};
\end{tikzpicture}
\end{document}
